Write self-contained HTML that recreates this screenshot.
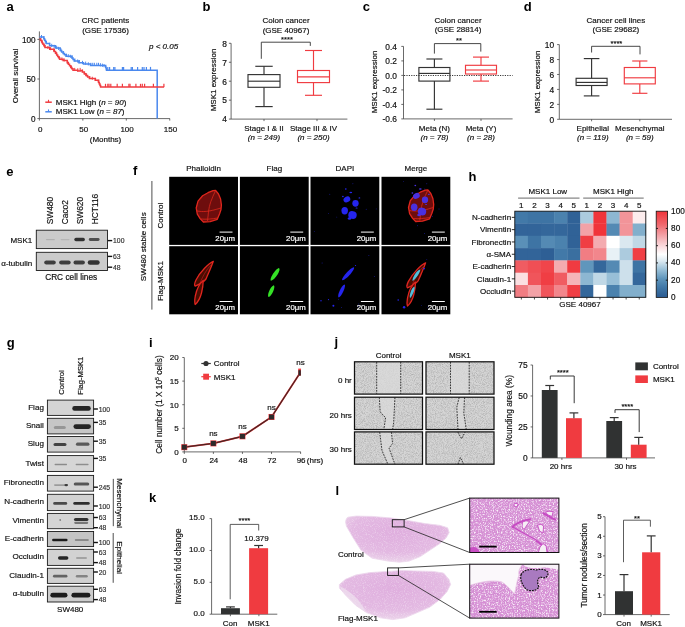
<!DOCTYPE html>
<html><head><meta charset="utf-8"><style>
html,body{margin:0;padding:0;background:#fff;}
svg{display:block;font-family:"Liberation Sans",sans-serif;filter:blur(0.3px);}
</style></head><body>
<svg width="685" height="627" viewBox="0 0 685 627">
<defs><filter id="bb" x="-50%" y="-100%" width="200%" height="300%"><feGaussianBlur stdDeviation="0.75"/></filter>
<filter id="bb2" x="-50%" y="-100%" width="200%" height="300%"><feGaussianBlur stdDeviation="1.1"/></filter>
<filter id="glow" x="-20%" y="-20%" width="140%" height="140%"><feGaussianBlur stdDeviation="0.35"/></filter>
<linearGradient id="cb" x1="0" y1="1" x2="0" y2="0"><stop offset="0.00" stop-color="#2a5a91"/><stop offset="0.12" stop-color="#4279a8"/><stop offset="0.22" stop-color="#6096bc"/><stop offset="0.32" stop-color="#98bfd7"/><stop offset="0.42" stop-color="#dae8f0"/><stop offset="0.50" stop-color="#ffffff"/><stop offset="0.60" stop-color="#fad8db"/><stop offset="0.72" stop-color="#f3a2a7"/><stop offset="0.85" stop-color="#f0666c"/><stop offset="1.00" stop-color="#f0343a"/></linearGradient>
<filter id="noise" x="0" y="0" width="100%" height="100%"><feTurbulence type="fractalNoise" baseFrequency="1.1" numOctaves="2" seed="4"/><feColorMatrix type="matrix" values="0 0 0 0 0  0 0 0 0 0  0 0 0 0 0  0 0 0 -2.2 1.35"/><feComposite in2="SourceGraphic" operator="in"/></filter>
<filter id="tis" x="0" y="0" width="100%" height="100%"><feTurbulence type="fractalNoise" baseFrequency="0.9" numOctaves="2" seed="9"/><feColorMatrix type="matrix" values="0 0 0 0 1  0 0 0 0 1  0 0 0 0 1  0 0 0 -3 1.55"/><feComposite in2="SourceGraphic" operator="in"/></filter>
<radialGradient id="tisg" cx="0.5" cy="0.35" r="0.65"><stop offset="0" stop-color="#dfaede"/><stop offset="0.7" stop-color="#e3b9e2"/><stop offset="1" stop-color="#ebd3ea"/></radialGradient>
<filter id="hist" x="0" y="0" width="100%" height="100%"><feTurbulence type="fractalNoise" baseFrequency="0.75" numOctaves="2" seed="2"/><feColorMatrix type="matrix" values="0 0 0 0 1  0 0 0 0 1  0 0 0 0 1  0 0 0 -3.2 1.75"/><feComposite in2="SourceGraphic" operator="in"/></filter>
<filter id="hist2" x="0" y="0" width="100%" height="100%"><feTurbulence type="fractalNoise" baseFrequency="1.3" numOctaves="1" seed="5"/><feColorMatrix type="matrix" values="0 0 0 0 0.5  0 0 0 0 0.2  0 0 0 0 0.5  0 0 0 4 -2.2"/><feComposite in2="SourceGraphic" operator="in"/></filter>
<clipPath id="ins1"><rect x="469.7" y="498.1" width="89.2" height="54.4"/></clipPath>
<clipPath id="ins2"><rect x="469.7" y="564.2" width="89.2" height="53.9"/></clipPath></defs>
<rect width="685" height="627" fill="#fff"/>
<text x="6.50" y="10.70" font-size="13" text-anchor="start" font-weight="bold" fill="#000">a</text>
<text x="105.50" y="23.00" font-size="8" text-anchor="middle" fill="#111" stroke="#111" stroke-width="0.18">CRC patients</text>
<text x="105.50" y="33.20" font-size="8" text-anchor="middle" fill="#111" stroke="#111" stroke-width="0.18">(GSE 17536)</text>
<text x="149.00" y="48.50" font-size="8" text-anchor="start" font-style="italic" fill="#111" stroke="#111" stroke-width="0.18"><tspan font-style="italic">p</tspan> &lt; 0.05</text>
<line x1="39.40" y1="31.40" x2="39.40" y2="118.60" stroke="#444" stroke-width="0.8"/>
<line x1="39.40" y1="118.60" x2="169.90" y2="118.60" stroke="#444" stroke-width="0.8"/>
<line x1="37.40" y1="118.60" x2="39.40" y2="118.60" stroke="#444" stroke-width="0.8"/>
<text x="35.60" y="121.80" font-size="8.2" text-anchor="end" fill="#111" stroke="#111" stroke-width="0.18">0</text>
<line x1="37.40" y1="79.00" x2="39.40" y2="79.00" stroke="#444" stroke-width="0.8"/>
<text x="35.60" y="82.20" font-size="8.2" text-anchor="end" fill="#111" stroke="#111" stroke-width="0.18">50</text>
<line x1="37.40" y1="39.40" x2="39.40" y2="39.40" stroke="#444" stroke-width="0.8"/>
<text x="35.60" y="42.60" font-size="8.2" text-anchor="end" fill="#111" stroke="#111" stroke-width="0.18">100</text>
<line x1="39.40" y1="118.60" x2="39.40" y2="120.60" stroke="#444" stroke-width="0.8"/>
<text x="40.20" y="131.60" font-size="8" text-anchor="middle" fill="#111" stroke="#111" stroke-width="0.18">0</text>
<line x1="82.85" y1="118.60" x2="82.85" y2="120.60" stroke="#444" stroke-width="0.8"/>
<text x="83.65" y="131.60" font-size="8" text-anchor="middle" fill="#111" stroke="#111" stroke-width="0.18">50</text>
<line x1="126.30" y1="118.60" x2="126.30" y2="120.60" stroke="#444" stroke-width="0.8"/>
<text x="127.10" y="131.60" font-size="8" text-anchor="middle" fill="#111" stroke="#111" stroke-width="0.18">100</text>
<line x1="169.75" y1="118.60" x2="169.75" y2="120.60" stroke="#444" stroke-width="0.8"/>
<text x="170.55" y="131.60" font-size="8" text-anchor="middle" fill="#111" stroke="#111" stroke-width="0.18">150</text>
<text x="105.50" y="141.80" font-size="8" text-anchor="middle" fill="#111" stroke="#111" stroke-width="0.18">(Months)</text>
<text x="17.60" y="76.00" font-size="8" text-anchor="middle" fill="#111" stroke="#111" stroke-width="0.18" transform="rotate(-90 17.6 76)">Overall survival</text>
<path d="M39.60,37.00 H43.80 V38.80 H44.60 V40.33 H45.40 V41.87 H46.20 V43.40 H49.70 V45.80 H55.50 V48.10 H60.20 V50.40 H61.65 V51.90 H63.10 V53.40 H64.55 V54.85 H66.00 V56.30 H71.90 V58.00 H73.05 V59.50 H74.20 V61.00 H78.90 V62.70 H83.50 V63.90 H90.50 V65.60 H98.70 V65.60 H105.70 V67.20 H106.10 V68.70 H106.50 V70.20 H157.20 V70.20 V118.60" stroke="#4a88ee" stroke-width="1.5" fill="none"/>
<path d="M39.60,38.80 H40.55 V40.15 H41.50 V41.50 H42.10 V42.75 H42.70 V44.00 H43.85 V45.75 H45.00 V47.50 H49.70 V49.30 H54.30 V51.60 H55.50 V53.35 H56.70 V55.10 H57.67 V56.47 H58.63 V57.83 H59.60 V59.20 H63.10 V60.40 H67.20 V62.70 H68.37 V64.27 H69.53 V65.83 H70.70 V67.40 H71.85 V68.85 H73.00 V70.30 H77.70 V70.90 H80.50 V70.40 H82.40 V72.00 H84.15 V73.75 H85.90 V75.50 H87.65 V77.00 H89.40 V78.50 H95.20 V80.20 H98.70 V82.60 H99.33 V84.10 H99.97 V85.60 H100.60 V87.10 H164.10 V87.10" stroke="#f03b40" stroke-width="1.5" fill="none"/>
<line x1="107.80" y1="66.90" x2="107.80" y2="70.20" stroke="#4a88ee" stroke-width="1.2"/>
<line x1="109.60" y1="66.90" x2="109.60" y2="70.20" stroke="#4a88ee" stroke-width="1.2"/>
<line x1="113.70" y1="66.90" x2="113.70" y2="70.20" stroke="#4a88ee" stroke-width="1.2"/>
<line x1="114.90" y1="66.90" x2="114.90" y2="70.20" stroke="#4a88ee" stroke-width="1.2"/>
<line x1="122.40" y1="66.90" x2="122.40" y2="70.20" stroke="#4a88ee" stroke-width="1.2"/>
<line x1="123.60" y1="66.90" x2="123.60" y2="70.20" stroke="#4a88ee" stroke-width="1.2"/>
<line x1="131.20" y1="66.90" x2="131.20" y2="70.20" stroke="#4a88ee" stroke-width="1.2"/>
<line x1="132.40" y1="66.90" x2="132.40" y2="70.20" stroke="#4a88ee" stroke-width="1.2"/>
<line x1="137.60" y1="66.90" x2="137.60" y2="70.20" stroke="#4a88ee" stroke-width="1.2"/>
<line x1="142.30" y1="66.90" x2="142.30" y2="70.20" stroke="#4a88ee" stroke-width="1.2"/>
<line x1="144.00" y1="66.90" x2="144.00" y2="70.20" stroke="#4a88ee" stroke-width="1.2"/>
<line x1="146.40" y1="66.90" x2="146.40" y2="70.20" stroke="#4a88ee" stroke-width="1.2"/>
<line x1="150.50" y1="66.90" x2="150.50" y2="70.20" stroke="#4a88ee" stroke-width="1.2"/>
<line x1="105.50" y1="83.80" x2="105.50" y2="87.10" stroke="#f03b40" stroke-width="1.2"/>
<line x1="107.80" y1="83.80" x2="107.80" y2="87.10" stroke="#f03b40" stroke-width="1.2"/>
<line x1="109.00" y1="83.80" x2="109.00" y2="87.10" stroke="#f03b40" stroke-width="1.2"/>
<line x1="110.80" y1="83.80" x2="110.80" y2="87.10" stroke="#f03b40" stroke-width="1.2"/>
<line x1="117.20" y1="83.80" x2="117.20" y2="87.10" stroke="#f03b40" stroke-width="1.2"/>
<line x1="122.40" y1="83.80" x2="122.40" y2="87.10" stroke="#f03b40" stroke-width="1.2"/>
<line x1="128.90" y1="83.80" x2="128.90" y2="87.10" stroke="#f03b40" stroke-width="1.2"/>
<line x1="130.00" y1="83.80" x2="130.00" y2="87.10" stroke="#f03b40" stroke-width="1.2"/>
<line x1="135.90" y1="83.80" x2="135.90" y2="87.10" stroke="#f03b40" stroke-width="1.2"/>
<line x1="140.50" y1="83.80" x2="140.50" y2="87.10" stroke="#f03b40" stroke-width="1.2"/>
<line x1="142.30" y1="83.80" x2="142.30" y2="87.10" stroke="#f03b40" stroke-width="1.2"/>
<line x1="144.60" y1="83.80" x2="144.60" y2="87.10" stroke="#f03b40" stroke-width="1.2"/>
<line x1="153.40" y1="83.80" x2="153.40" y2="87.10" stroke="#f03b40" stroke-width="1.2"/>
<line x1="163.90" y1="83.80" x2="163.90" y2="87.10" stroke="#f03b40" stroke-width="1.2"/>
<line x1="41.50" y1="35.01" x2="41.50" y2="38.21" stroke="#4a88ee" stroke-width="1.0"/>
<line x1="43.82" y1="36.05" x2="43.82" y2="39.25" stroke="#4a88ee" stroke-width="1.0"/>
<line x1="46.32" y1="40.68" x2="46.32" y2="43.88" stroke="#4a88ee" stroke-width="1.0"/>
<line x1="49.40" y1="42.79" x2="49.40" y2="45.99" stroke="#4a88ee" stroke-width="1.0"/>
<line x1="51.74" y1="43.81" x2="51.74" y2="47.01" stroke="#4a88ee" stroke-width="1.0"/>
<line x1="54.16" y1="44.77" x2="54.16" y2="47.97" stroke="#4a88ee" stroke-width="1.0"/>
<line x1="56.70" y1="45.89" x2="56.70" y2="49.09" stroke="#4a88ee" stroke-width="1.0"/>
<line x1="58.59" y1="46.81" x2="58.59" y2="50.01" stroke="#4a88ee" stroke-width="1.0"/>
<line x1="61.01" y1="48.44" x2="61.01" y2="51.64" stroke="#4a88ee" stroke-width="1.0"/>
<line x1="63.62" y1="51.12" x2="63.62" y2="54.32" stroke="#4a88ee" stroke-width="1.0"/>
<line x1="66.49" y1="53.64" x2="66.49" y2="56.84" stroke="#4a88ee" stroke-width="1.0"/>
<line x1="68.24" y1="54.14" x2="68.24" y2="57.34" stroke="#4a88ee" stroke-width="1.0"/>
<line x1="70.32" y1="54.75" x2="70.32" y2="57.95" stroke="#4a88ee" stroke-width="1.0"/>
<line x1="72.07" y1="55.42" x2="72.07" y2="58.62" stroke="#4a88ee" stroke-width="1.0"/>
<line x1="74.96" y1="58.48" x2="74.96" y2="61.68" stroke="#4a88ee" stroke-width="1.0"/>
<line x1="77.67" y1="59.46" x2="77.67" y2="62.66" stroke="#4a88ee" stroke-width="1.0"/>
<line x1="79.34" y1="60.01" x2="79.34" y2="63.21" stroke="#4a88ee" stroke-width="1.0"/>
<line x1="82.51" y1="60.84" x2="82.51" y2="64.04" stroke="#4a88ee" stroke-width="1.0"/>
<line x1="85.65" y1="61.62" x2="85.65" y2="64.82" stroke="#4a88ee" stroke-width="1.0"/>
<line x1="88.30" y1="62.27" x2="88.30" y2="65.47" stroke="#4a88ee" stroke-width="1.0"/>
<line x1="90.89" y1="62.80" x2="90.89" y2="66.00" stroke="#4a88ee" stroke-width="1.0"/>
<line x1="92.74" y1="62.80" x2="92.74" y2="66.00" stroke="#4a88ee" stroke-width="1.0"/>
<line x1="94.36" y1="62.80" x2="94.36" y2="66.00" stroke="#4a88ee" stroke-width="1.0"/>
<line x1="96.81" y1="62.80" x2="96.81" y2="66.00" stroke="#4a88ee" stroke-width="1.0"/>
<line x1="98.50" y1="62.80" x2="98.50" y2="66.00" stroke="#4a88ee" stroke-width="1.0"/>
<line x1="100.41" y1="63.19" x2="100.41" y2="66.39" stroke="#4a88ee" stroke-width="1.0"/>
<line x1="102.39" y1="63.64" x2="102.39" y2="66.84" stroke="#4a88ee" stroke-width="1.0"/>
<line x1="104.04" y1="64.02" x2="104.04" y2="67.22" stroke="#4a88ee" stroke-width="1.0"/>
<line x1="42.00" y1="39.94" x2="42.00" y2="42.94" stroke="#f03b40" stroke-width="1.0"/>
<line x1="44.59" y1="44.28" x2="44.59" y2="47.28" stroke="#f03b40" stroke-width="1.0"/>
<line x1="47.91" y1="46.01" x2="47.91" y2="49.01" stroke="#f03b40" stroke-width="1.0"/>
<line x1="50.64" y1="47.17" x2="50.64" y2="50.17" stroke="#f03b40" stroke-width="1.0"/>
<line x1="53.60" y1="48.65" x2="53.60" y2="51.65" stroke="#f03b40" stroke-width="1.0"/>
<line x1="56.30" y1="51.91" x2="56.30" y2="54.91" stroke="#f03b40" stroke-width="1.0"/>
<line x1="59.29" y1="56.16" x2="59.29" y2="59.16" stroke="#f03b40" stroke-width="1.0"/>
<line x1="61.91" y1="57.39" x2="61.91" y2="60.39" stroke="#f03b40" stroke-width="1.0"/>
<line x1="64.21" y1="58.42" x2="64.21" y2="61.42" stroke="#f03b40" stroke-width="1.0"/>
<line x1="67.81" y1="60.92" x2="67.81" y2="63.92" stroke="#f03b40" stroke-width="1.0"/>
<line x1="71.40" y1="65.68" x2="71.40" y2="68.68" stroke="#f03b40" stroke-width="1.0"/>
<line x1="74.71" y1="67.92" x2="74.71" y2="70.92" stroke="#f03b40" stroke-width="1.0"/>
<line x1="77.79" y1="68.28" x2="77.79" y2="71.28" stroke="#f03b40" stroke-width="1.0"/>
<line x1="80.15" y1="67.86" x2="80.15" y2="70.86" stroke="#f03b40" stroke-width="1.0"/>
<line x1="82.37" y1="69.37" x2="82.37" y2="72.37" stroke="#f03b40" stroke-width="1.0"/>
<line x1="84.69" y1="71.69" x2="84.69" y2="74.69" stroke="#f03b40" stroke-width="1.0"/>
<line x1="86.61" y1="73.51" x2="86.61" y2="76.51" stroke="#f03b40" stroke-width="1.0"/>
<line x1="89.79" y1="76.02" x2="89.79" y2="79.02" stroke="#f03b40" stroke-width="1.0"/>
<line x1="92.31" y1="76.75" x2="92.31" y2="79.75" stroke="#f03b40" stroke-width="1.0"/>
<line x1="95.64" y1="77.90" x2="95.64" y2="80.90" stroke="#f03b40" stroke-width="1.0"/>
<line x1="98.13" y1="79.61" x2="98.13" y2="82.61" stroke="#f03b40" stroke-width="1.0"/>
<line x1="45.30" y1="102.20" x2="51.80" y2="102.20" stroke="#f03b40" stroke-width="1.5"/>
<line x1="48.50" y1="99.80" x2="48.50" y2="102.20" stroke="#f03b40" stroke-width="1.1"/>
<line x1="45.30" y1="111.80" x2="51.80" y2="111.80" stroke="#4a88ee" stroke-width="1.5"/>
<line x1="48.50" y1="109.40" x2="48.50" y2="111.80" stroke="#4a88ee" stroke-width="1.1"/>
<text x="55.80" y="104.80" font-size="8" text-anchor="start" fill="#111" stroke="#111" stroke-width="0.18">MSK1 High (<tspan font-style="italic">n</tspan> = <tspan font-style="italic">90</tspan>)</text>
<text x="55.80" y="114.40" font-size="8" text-anchor="start" fill="#111" stroke="#111" stroke-width="0.18">MSK1 Low (<tspan font-style="italic">n</tspan> = <tspan font-style="italic">87</tspan>)</text>
<text x="202.60" y="10.60" font-size="13" text-anchor="start" font-weight="bold" fill="#000">b</text>
<text x="286.00" y="23.10" font-size="8" text-anchor="middle" fill="#111" stroke="#111" stroke-width="0.18">Colon cancer</text>
<text x="286.00" y="33.00" font-size="8" text-anchor="middle" fill="#111" stroke="#111" stroke-width="0.18">(GSE 40967)</text>
<line x1="231.10" y1="43.30" x2="231.10" y2="119.10" stroke="#444" stroke-width="0.8"/>
<line x1="228.90" y1="119.10" x2="231.10" y2="119.10" stroke="#444" stroke-width="0.8"/>
<text x="226.90" y="122.40" font-size="8.4" text-anchor="end" fill="#111" stroke="#111" stroke-width="0.18">4</text>
<line x1="228.90" y1="100.15" x2="231.10" y2="100.15" stroke="#444" stroke-width="0.8"/>
<text x="226.90" y="103.45" font-size="8.4" text-anchor="end" fill="#111" stroke="#111" stroke-width="0.18">5</text>
<line x1="228.90" y1="81.20" x2="231.10" y2="81.20" stroke="#444" stroke-width="0.8"/>
<text x="226.90" y="84.50" font-size="8.4" text-anchor="end" fill="#111" stroke="#111" stroke-width="0.18">6</text>
<line x1="228.90" y1="62.25" x2="231.10" y2="62.25" stroke="#444" stroke-width="0.8"/>
<text x="226.90" y="65.55" font-size="8.4" text-anchor="end" fill="#111" stroke="#111" stroke-width="0.18">7</text>
<line x1="228.90" y1="43.30" x2="231.10" y2="43.30" stroke="#444" stroke-width="0.8"/>
<text x="226.90" y="46.60" font-size="8.4" text-anchor="end" fill="#111" stroke="#111" stroke-width="0.18">8</text>
<line x1="231.10" y1="119.10" x2="347.40" y2="119.10" stroke="#444" stroke-width="0.8"/>
<line x1="264.00" y1="119.10" x2="264.00" y2="121.10" stroke="#444" stroke-width="0.8"/>
<line x1="317.00" y1="119.10" x2="317.00" y2="121.10" stroke="#444" stroke-width="0.8"/>
<rect x="248.00" y="74.60" width="32.00" height="12.70" fill="none" stroke="#333" stroke-width="1.15"/>
<line x1="248.00" y1="81.20" x2="280.00" y2="81.20" stroke="#333" stroke-width="1.15"/>
<line x1="264.00" y1="74.60" x2="264.00" y2="66.30" stroke="#333" stroke-width="1.15"/>
<line x1="264.00" y1="87.30" x2="264.00" y2="106.60" stroke="#333" stroke-width="1.15"/>
<line x1="255.30" y1="66.30" x2="272.70" y2="66.30" stroke="#333" stroke-width="1.15"/>
<line x1="255.30" y1="106.60" x2="272.70" y2="106.60" stroke="#333" stroke-width="1.15"/>
<rect x="297.50" y="70.50" width="32.00" height="12.10" fill="none" stroke="#f03b40" stroke-width="1.15"/>
<line x1="297.50" y1="76.80" x2="329.50" y2="76.80" stroke="#f03b40" stroke-width="1.15"/>
<line x1="313.50" y1="70.50" x2="313.50" y2="50.50" stroke="#f03b40" stroke-width="1.15"/>
<line x1="313.50" y1="82.60" x2="313.50" y2="95.30" stroke="#f03b40" stroke-width="1.15"/>
<line x1="305.00" y1="50.50" x2="322.00" y2="50.50" stroke="#f03b40" stroke-width="1.15"/>
<line x1="305.00" y1="95.30" x2="322.00" y2="95.30" stroke="#f03b40" stroke-width="1.15"/>
<path d="M261.3,58.8 V42.2 H310.3 V45.9" stroke="#333" stroke-width="0.9" fill="none"/>
<text x="287.00" y="42.00" font-size="7.6" text-anchor="middle" fill="#111" stroke="#111" stroke-width="0.18">****</text>
<text x="264.00" y="131.00" font-size="8" text-anchor="middle" fill="#111" stroke="#111" stroke-width="0.18">Stage I &amp; II</text>
<text x="264.00" y="140.40" font-size="8" text-anchor="middle" font-style="italic" fill="#111" stroke="#111" stroke-width="0.18">(<tspan>n</tspan> = 249)</text>
<text x="313.50" y="131.00" font-size="8" text-anchor="middle" fill="#111" stroke="#111" stroke-width="0.18">Stage III &amp; IV</text>
<text x="313.50" y="140.40" font-size="8" text-anchor="middle" font-style="italic" fill="#111" stroke="#111" stroke-width="0.18">(n = 250)</text>
<text x="216.30" y="80.00" font-size="8" text-anchor="middle" fill="#111" stroke="#111" stroke-width="0.18" transform="rotate(-90 216.3 80)">MSK1 expression</text>
<text x="362.80" y="10.60" font-size="13" text-anchor="start" font-weight="bold" fill="#000">c</text>
<text x="458.00" y="22.80" font-size="8" text-anchor="middle" fill="#111" stroke="#111" stroke-width="0.18">Colon cancer</text>
<text x="458.00" y="32.30" font-size="8" text-anchor="middle" fill="#111" stroke="#111" stroke-width="0.18">(GSE 28814)</text>
<line x1="403.50" y1="46.40" x2="403.50" y2="118.90" stroke="#444" stroke-width="0.8"/>
<line x1="401.30" y1="46.40" x2="403.50" y2="46.40" stroke="#444" stroke-width="0.8"/>
<text x="397.00" y="49.70" font-size="8.4" text-anchor="end" fill="#111" stroke="#111" stroke-width="0.18">0.4</text>
<line x1="401.30" y1="60.90" x2="403.50" y2="60.90" stroke="#444" stroke-width="0.8"/>
<text x="397.00" y="64.20" font-size="8.4" text-anchor="end" fill="#111" stroke="#111" stroke-width="0.18">0.2</text>
<line x1="401.30" y1="75.40" x2="403.50" y2="75.40" stroke="#444" stroke-width="0.8"/>
<text x="397.00" y="78.70" font-size="8.4" text-anchor="end" fill="#111" stroke="#111" stroke-width="0.18">0.0</text>
<line x1="401.30" y1="89.90" x2="403.50" y2="89.90" stroke="#444" stroke-width="0.8"/>
<text x="397.00" y="93.20" font-size="8.4" text-anchor="end" fill="#111" stroke="#111" stroke-width="0.18">-0.2</text>
<line x1="401.30" y1="104.40" x2="403.50" y2="104.40" stroke="#444" stroke-width="0.8"/>
<text x="397.00" y="107.70" font-size="8.4" text-anchor="end" fill="#111" stroke="#111" stroke-width="0.18">-0.4</text>
<line x1="401.30" y1="118.90" x2="403.50" y2="118.90" stroke="#444" stroke-width="0.8"/>
<text x="397.00" y="122.20" font-size="8.4" text-anchor="end" fill="#111" stroke="#111" stroke-width="0.18">-0.6</text>
<line x1="403.50" y1="118.90" x2="512.60" y2="118.90" stroke="#444" stroke-width="0.8"/>
<line x1="404.00" y1="75.50" x2="512.60" y2="75.50" stroke="#222" stroke-width="0.9" stroke-dasharray="1.2,1.2"/>
<line x1="434.40" y1="118.90" x2="434.40" y2="120.90" stroke="#444" stroke-width="0.8"/>
<line x1="481.00" y1="118.90" x2="481.00" y2="120.90" stroke="#444" stroke-width="0.8"/>
<rect x="418.90" y="67.50" width="31.00" height="13.60" fill="none" stroke="#333" stroke-width="1.15"/>
<line x1="418.90" y1="73.40" x2="449.90" y2="73.40" stroke="#333" stroke-width="1.15"/>
<line x1="434.40" y1="67.50" x2="434.40" y2="59.00" stroke="#333" stroke-width="1.15"/>
<line x1="434.40" y1="81.10" x2="434.40" y2="109.20" stroke="#333" stroke-width="1.15"/>
<line x1="426.40" y1="59.00" x2="442.40" y2="59.00" stroke="#333" stroke-width="1.15"/>
<line x1="426.40" y1="109.20" x2="442.40" y2="109.20" stroke="#333" stroke-width="1.15"/>
<rect x="465.50" y="65.30" width="31.00" height="8.70" fill="none" stroke="#f03b40" stroke-width="1.15"/>
<line x1="465.50" y1="70.00" x2="496.50" y2="70.00" stroke="#f03b40" stroke-width="1.15"/>
<line x1="481.00" y1="65.30" x2="481.00" y2="57.10" stroke="#f03b40" stroke-width="1.15"/>
<line x1="481.00" y1="74.00" x2="481.00" y2="81.10" stroke="#f03b40" stroke-width="1.15"/>
<line x1="473.00" y1="57.10" x2="489.00" y2="57.10" stroke="#f03b40" stroke-width="1.15"/>
<line x1="473.00" y1="81.10" x2="489.00" y2="81.10" stroke="#f03b40" stroke-width="1.15"/>
<path d="M434.4,53.6 V43.6 H480.8 V51.6" stroke="#333" stroke-width="0.9" fill="none"/>
<text x="459.00" y="43.00" font-size="7.6" text-anchor="middle" fill="#111" stroke="#111" stroke-width="0.18">**</text>
<text x="434.40" y="131.00" font-size="8" text-anchor="middle" fill="#111" stroke="#111" stroke-width="0.18">Meta (N)</text>
<text x="434.40" y="139.60" font-size="8" text-anchor="middle" font-style="italic" fill="#111" stroke="#111" stroke-width="0.18">(n = 78)</text>
<text x="481.00" y="131.00" font-size="8" text-anchor="middle" fill="#111" stroke="#111" stroke-width="0.18">Meta (Y)</text>
<text x="481.00" y="139.60" font-size="8" text-anchor="middle" font-style="italic" fill="#111" stroke="#111" stroke-width="0.18">(n = 28)</text>
<text x="377.30" y="82.00" font-size="8" text-anchor="middle" fill="#111" stroke="#111" stroke-width="0.18" transform="rotate(-90 377.3 82)">MSK1 expression</text>
<text x="523.80" y="10.60" font-size="13" text-anchor="start" font-weight="bold" fill="#000">d</text>
<text x="615.90" y="22.90" font-size="8" text-anchor="middle" fill="#111" stroke="#111" stroke-width="0.18">Cancer cell lines</text>
<text x="615.90" y="31.70" font-size="8" text-anchor="middle" fill="#111" stroke="#111" stroke-width="0.18">(GSE 29682)</text>
<line x1="559.30" y1="44.60" x2="559.30" y2="119.30" stroke="#444" stroke-width="0.8"/>
<line x1="557.10" y1="119.30" x2="559.30" y2="119.30" stroke="#444" stroke-width="0.8"/>
<text x="554.10" y="122.60" font-size="8.4" text-anchor="end" fill="#111" stroke="#111" stroke-width="0.18">0</text>
<line x1="557.10" y1="104.36" x2="559.30" y2="104.36" stroke="#444" stroke-width="0.8"/>
<text x="554.10" y="107.66" font-size="8.4" text-anchor="end" fill="#111" stroke="#111" stroke-width="0.18">2</text>
<line x1="557.10" y1="89.42" x2="559.30" y2="89.42" stroke="#444" stroke-width="0.8"/>
<text x="554.10" y="92.72" font-size="8.4" text-anchor="end" fill="#111" stroke="#111" stroke-width="0.18">4</text>
<line x1="557.10" y1="74.48" x2="559.30" y2="74.48" stroke="#444" stroke-width="0.8"/>
<text x="554.10" y="77.78" font-size="8.4" text-anchor="end" fill="#111" stroke="#111" stroke-width="0.18">6</text>
<line x1="557.10" y1="59.54" x2="559.30" y2="59.54" stroke="#444" stroke-width="0.8"/>
<text x="554.10" y="62.84" font-size="8.4" text-anchor="end" fill="#111" stroke="#111" stroke-width="0.18">8</text>
<line x1="557.10" y1="44.60" x2="559.30" y2="44.60" stroke="#444" stroke-width="0.8"/>
<text x="554.10" y="47.90" font-size="8.4" text-anchor="end" fill="#111" stroke="#111" stroke-width="0.18">10</text>
<line x1="559.30" y1="119.30" x2="672.00" y2="119.30" stroke="#444" stroke-width="0.8"/>
<line x1="591.60" y1="119.30" x2="591.60" y2="121.30" stroke="#444" stroke-width="0.8"/>
<line x1="639.80" y1="119.30" x2="639.80" y2="121.30" stroke="#444" stroke-width="0.8"/>
<rect x="576.10" y="78.30" width="31.00" height="7.20" fill="none" stroke="#333" stroke-width="1.15"/>
<line x1="576.10" y1="82.40" x2="607.10" y2="82.40" stroke="#333" stroke-width="1.15"/>
<line x1="591.60" y1="78.30" x2="591.60" y2="58.60" stroke="#333" stroke-width="1.15"/>
<line x1="591.60" y1="85.50" x2="591.60" y2="95.90" stroke="#333" stroke-width="1.15"/>
<line x1="583.80" y1="58.60" x2="599.40" y2="58.60" stroke="#333" stroke-width="1.15"/>
<line x1="583.80" y1="95.90" x2="599.40" y2="95.90" stroke="#333" stroke-width="1.15"/>
<rect x="624.30" y="67.50" width="31.00" height="16.40" fill="none" stroke="#f03b40" stroke-width="1.15"/>
<line x1="624.30" y1="77.80" x2="655.30" y2="77.80" stroke="#f03b40" stroke-width="1.15"/>
<line x1="639.80" y1="67.50" x2="639.80" y2="61.00" stroke="#f03b40" stroke-width="1.15"/>
<line x1="639.80" y1="83.90" x2="639.80" y2="93.30" stroke="#f03b40" stroke-width="1.15"/>
<line x1="632.20" y1="61.00" x2="647.40" y2="61.00" stroke="#f03b40" stroke-width="1.15"/>
<line x1="632.20" y1="93.30" x2="647.40" y2="93.30" stroke="#f03b40" stroke-width="1.15"/>
<path d="M591.6,52.5 V46.3 H640 V54.4" stroke="#333" stroke-width="0.9" fill="none"/>
<text x="616.40" y="45.60" font-size="7.6" text-anchor="middle" fill="#111" stroke="#111" stroke-width="0.18">****</text>
<text x="592.80" y="130.80" font-size="8" text-anchor="middle" fill="#111" stroke="#111" stroke-width="0.18">Epithelial</text>
<text x="592.80" y="140.20" font-size="8" text-anchor="middle" font-style="italic" fill="#111" stroke="#111" stroke-width="0.18">(n = 119)</text>
<text x="639.80" y="130.80" font-size="8" text-anchor="middle" fill="#111" stroke="#111" stroke-width="0.18">Mesenchymal</text>
<text x="639.80" y="140.20" font-size="8" text-anchor="middle" font-style="italic" fill="#111" stroke="#111" stroke-width="0.18">(n = 59)</text>
<text x="539.60" y="82.00" font-size="8" text-anchor="middle" fill="#111" stroke="#111" stroke-width="0.18" transform="rotate(-90 539.6 82)">MSK1 expression</text>
<text x="6.30" y="176.30" font-size="13" text-anchor="start" font-weight="bold" fill="#000">e</text>
<text x="53.40" y="224.30" font-size="8.4" text-anchor="start" fill="#111" stroke="#111" stroke-width="0.18" transform="rotate(-90 53.4 224.3)">SW480</text>
<text x="68.20" y="224.30" font-size="8.4" text-anchor="start" fill="#111" stroke="#111" stroke-width="0.18" transform="rotate(-90 68.2 224.3)">Caco2</text>
<text x="82.90" y="224.30" font-size="8.4" text-anchor="start" fill="#111" stroke="#111" stroke-width="0.18" transform="rotate(-90 82.9 224.3)">SW620</text>
<text x="97.60" y="224.30" font-size="8.4" text-anchor="start" fill="#111" stroke="#111" stroke-width="0.18" transform="rotate(-90 97.6 224.3)">HCT116</text>
<rect x="36.30" y="230.20" width="71.20" height="18.40" fill="#cbcbcb" stroke="#1a1a1a" stroke-width="0.9"/>
<rect x="74.30" y="237.80" width="10.60" height="3.40" rx="1.70" fill="#1e1e1e" opacity="0.88" filter="url(#bb)"/>
<rect x="88.80" y="238.10" width="10.80" height="2.80" rx="1.40" fill="#1e1e1e" opacity="0.7" filter="url(#bb)"/>
<rect x="45.90" y="238.90" width="9.00" height="1.40" rx="0.70" fill="#1e1e1e" opacity="0.15" filter="url(#bb)"/>
<rect x="60.60" y="238.90" width="9.00" height="1.40" rx="0.70" fill="#1e1e1e" opacity="0.12" filter="url(#bb)"/>
<rect x="36.30" y="252.30" width="71.20" height="18.20" fill="#cbcbcb" stroke="#1a1a1a" stroke-width="0.9"/>
<rect x="44.20" y="260.40" width="11.60" height="4.20" rx="2.10" fill="#1e1e1e" opacity="0.8" filter="url(#bb)"/>
<rect x="59.10" y="260.40" width="11.60" height="4.20" rx="2.10" fill="#1e1e1e" opacity="0.8" filter="url(#bb)"/>
<rect x="73.50" y="260.50" width="11.40" height="4.00" rx="2.00" fill="#1e1e1e" opacity="0.8" filter="url(#bb)"/>
<rect x="87.70" y="260.25" width="12.00" height="4.50" rx="2.25" fill="#1e1e1e" opacity="0.86" filter="url(#bb)"/>
<text x="32.20" y="242.60" font-size="8" text-anchor="end" fill="#111" stroke="#111" stroke-width="0.18">MSK1</text>
<text x="32.20" y="265.80" font-size="8" text-anchor="end" fill="#111" stroke="#111" stroke-width="0.18">α-tubulin</text>
<line x1="107.90" y1="240.60" x2="112.20" y2="240.60" stroke="#111" stroke-width="1.4"/>
<text x="113.10" y="243.10" font-size="6.8" text-anchor="start" fill="#333" stroke="#333" stroke-width="0.18">100</text>
<line x1="107.90" y1="256.40" x2="112.20" y2="256.40" stroke="#111" stroke-width="1.4"/>
<text x="113.10" y="258.90" font-size="6.8" text-anchor="start" fill="#333" stroke="#333" stroke-width="0.18">63</text>
<line x1="107.90" y1="267.20" x2="112.20" y2="267.20" stroke="#111" stroke-width="1.4"/>
<text x="113.10" y="269.70" font-size="6.8" text-anchor="start" fill="#333" stroke="#333" stroke-width="0.18">48</text>
<text x="71.20" y="280.00" font-size="8.3" text-anchor="middle" fill="#111" stroke="#111" stroke-width="0.18">CRC cell lines</text>
<text x="133.00" y="175.40" font-size="13" text-anchor="start" font-weight="bold" fill="#000">f</text>
<text x="203.60" y="171.40" font-size="8" text-anchor="middle" fill="#111" stroke="#111" stroke-width="0.18">Phalloidin</text>
<text x="274.30" y="171.40" font-size="8" text-anchor="middle" fill="#111" stroke="#111" stroke-width="0.18">Flag</text>
<text x="344.90" y="171.40" font-size="8" text-anchor="middle" fill="#111" stroke="#111" stroke-width="0.18">DAPI</text>
<text x="415.90" y="171.40" font-size="8" text-anchor="middle" fill="#111" stroke="#111" stroke-width="0.18">Merge</text>
<rect x="169.20" y="176.80" width="68.80" height="68.10" fill="#000" stroke="none" stroke-width="1"/>
<rect x="239.90" y="176.80" width="68.80" height="68.10" fill="#000" stroke="none" stroke-width="1"/>
<rect x="310.50" y="176.80" width="68.80" height="68.10" fill="#000" stroke="none" stroke-width="1"/>
<rect x="381.50" y="176.80" width="68.80" height="68.10" fill="#000" stroke="none" stroke-width="1"/>
<rect x="169.20" y="246.20" width="68.80" height="68.10" fill="#000" stroke="none" stroke-width="1"/>
<rect x="239.90" y="246.20" width="68.80" height="68.10" fill="#000" stroke="none" stroke-width="1"/>
<rect x="310.50" y="246.20" width="68.80" height="68.10" fill="#000" stroke="none" stroke-width="1"/>
<rect x="381.50" y="246.20" width="68.80" height="68.10" fill="#000" stroke="none" stroke-width="1"/>
<line x1="151.90" y1="181.00" x2="151.90" y2="309.60" stroke="#222" stroke-width="0.8"/>
<text x="146.20" y="246.70" font-size="8.1" text-anchor="middle" fill="#111" stroke="#111" stroke-width="0.18" transform="rotate(-90 146.2 246.7)">SW480 stable cells</text>
<text x="162.80" y="215.60" font-size="8" text-anchor="middle" fill="#111" stroke="#111" stroke-width="0.18" transform="rotate(-90 162.8 215.6)">Control</text>
<text x="162.80" y="281.10" font-size="8" text-anchor="middle" fill="#111" stroke="#111" stroke-width="0.18" transform="rotate(-90 162.8 281.1)">Flag-MSK1</text>
<g filter="url(#glow)">
<path d="M215.6,190.4 L218.5,194.0 L220.6,199.0 L221.4,205.0 L221.0,209.5 L219.5,214.0 L217.3,219.3 L210.2,221.6 L203.4,222.0 L200.3,218.9 L197.3,214.2 L196.2,208.0 L198.0,201.1 L202.6,195.8 L208.0,192.7 L213.0,190.6 Z" stroke="none" stroke-width="0" fill="#6e100b"/>
<path d="M215.6,190.6 C212,198 209,205 208.5,212 L207.5,221 M197,211 C203,212 208,212 221,208 M201,219 C206,219.5 212,219 217.8,218" stroke="#e0261e" stroke-width="0.9" fill="none" opacity="0.85"/>
<path d="M215.6,190.4 L218.5,194.0 L220.6,199.0 L221.4,205.0 L221.0,209.5 L219.5,214.0 L217.3,219.3 L210.2,221.6 L203.4,222.0 L200.3,218.9 L197.3,214.2 L196.2,208.0 L198.0,201.1 L202.6,195.8 L208.0,192.7 L213.0,190.6 Z" stroke="#e0261e" stroke-width="1.3" fill="none" stroke-linejoin="round"/>
</g>
<g filter="url(#glow)">
<path d="M213.3,261.3 C209,263 200,272 196,280 C194,284 194.5,286 195.2,286.2 C199,284.5 204,281.5 206,279 C208,274 211,268 213.3,261.3 Z" stroke="#e0261e" stroke-width="1.3" fill="#4a0805" stroke-linejoin="round"/>
<path d="M203.2,280.5 C199,284 196.5,290 195.3,296 C194.6,300 194.6,303 195.2,304.5 C198,302 200.2,298 201.5,293 C202.5,289 203.2,284 203.2,280.5 Z" stroke="#e0261e" stroke-width="1.3" fill="#4a0805" stroke-linejoin="round"/>
<path d="M211,265 C206,270 203,276 200,283" stroke="#e0261e" stroke-width="0.7" fill="none" opacity="0.7"/>
</g>
<g filter="url(#glow)">
<path d="M279,268 C281.5,269.5 275,280 271,280.8 C268.8,279.5 275.5,268.5 279,268 Z" fill="#35e226"/>
<path d="M273.8,285.2 C276,286.5 271.5,296.5 268.6,297 C266.5,296 270.5,285.8 273.8,285.2 Z" fill="#35e226"/>
</g>
<ellipse cx="346.9" cy="199.4" rx="3.52" ry="2.82" fill="#2525ee" transform="rotate(-30 346.9 199.4)"/>
<ellipse cx="355.5" cy="203.3" rx="3.17" ry="3.34" fill="#2525ee" transform="rotate(0 355.5 203.3)"/>
<ellipse cx="344.7" cy="210.8" rx="3.26" ry="3.70" fill="#2525ee" transform="rotate(0 344.7 210.8)"/>
<ellipse cx="352.5" cy="215.0" rx="4.22" ry="3.87" fill="#2525ee" transform="rotate(10 352.5 215.0)"/>
<ellipse cx="350.8" cy="192.5" rx="1.41" ry="0.70" fill="#2525ee" transform="rotate(0 350.8 192.5)"/>
<ellipse cx="345.8" cy="189.0" rx="0.88" ry="0.70" fill="#2525ee" transform="rotate(0 345.8 189.0)"/>
<ellipse cx="359.4" cy="197.9" rx="0.88" ry="0.70" fill="#2525ee" transform="rotate(0 359.4 197.9)"/>
<ellipse cx="356.6" cy="208.0" rx="1.06" ry="0.62" fill="#2525ee" transform="rotate(0 356.6 208.0)"/>
<ellipse cx="342.9" cy="196.5" rx="0.88" ry="0.70" fill="#2525ee" transform="rotate(0 342.9 196.5)"/>
<ellipse cx="349.5" cy="218.5" rx="1.76" ry="1.32" fill="#2525ee" transform="rotate(0 349.5 218.5)"/>
<circle cx="328.5" cy="213.4" r="0.45" fill="#2a2cff" opacity="0.8"/>
<circle cx="336.8" cy="217.1" r="0.45" fill="#2a2cff" opacity="0.8"/>
<circle cx="352.9" cy="183.8" r="0.45" fill="#2a2cff" opacity="0.8"/>
<circle cx="314.3" cy="231.6" r="0.45" fill="#2a2cff" opacity="0.8"/>
<circle cx="329.8" cy="194.2" r="0.45" fill="#2a2cff" opacity="0.8"/>
<circle cx="376.2" cy="208.9" r="0.45" fill="#2a2cff" opacity="0.8"/>
<circle cx="366.2" cy="209.2" r="0.45" fill="#2a2cff" opacity="0.8"/>
<circle cx="424.8" cy="189.0" r="0.45" fill="#2a2cff" opacity="0.8"/>
<circle cx="424.5" cy="233.5" r="0.45" fill="#2a2cff" opacity="0.8"/>
<circle cx="417.5" cy="225.7" r="0.45" fill="#2a2cff" opacity="0.8"/>
<circle cx="426.8" cy="183.7" r="0.45" fill="#2a2cff" opacity="0.8"/>
<circle cx="432.3" cy="216.3" r="0.45" fill="#2a2cff" opacity="0.8"/>
<circle cx="403.5" cy="181.6" r="0.45" fill="#2a2cff" opacity="0.8"/>
<circle cx="439.0" cy="209.0" r="0.45" fill="#2a2cff" opacity="0.8"/>
<circle cx="358.8" cy="304.0" r="0.45" fill="#2a2cff" opacity="0.8"/>
<circle cx="358.5" cy="306.6" r="0.45" fill="#2a2cff" opacity="0.8"/>
<circle cx="338.4" cy="299.2" r="0.45" fill="#2a2cff" opacity="0.8"/>
<circle cx="341.5" cy="307.5" r="0.45" fill="#2a2cff" opacity="0.8"/>
<circle cx="368.9" cy="255.5" r="0.45" fill="#2a2cff" opacity="0.8"/>
<circle cx="322.1" cy="263.0" r="0.45" fill="#2a2cff" opacity="0.8"/>
<circle cx="374.3" cy="276.5" r="0.45" fill="#2a2cff" opacity="0.8"/>
<circle cx="424.0" cy="268.2" r="0.45" fill="#2a2cff" opacity="0.8"/>
<circle cx="416.5" cy="273.4" r="0.45" fill="#2a2cff" opacity="0.8"/>
<circle cx="406.6" cy="285.8" r="0.45" fill="#2a2cff" opacity="0.8"/>
<circle cx="421.3" cy="305.6" r="0.45" fill="#2a2cff" opacity="0.8"/>
<circle cx="427.5" cy="307.1" r="0.45" fill="#2a2cff" opacity="0.8"/>
<circle cx="438.5" cy="310.9" r="0.45" fill="#2a2cff" opacity="0.8"/>
<circle cx="426.8" cy="259.6" r="0.45" fill="#2a2cff" opacity="0.8"/>
<path d="M353.8,267.3 C356,268.5 346,280.5 342.3,280.2 C340.5,278.8 350,268 353.8,267.3 Z" fill="#2525ee"/>
<path d="M344.6,284.6 C346.5,285.5 341.5,297.3 338.6,297.4 C336.8,296.5 341,285.5 344.6,284.6 Z" fill="#2525ee"/>
<circle cx="333.4" cy="305.8" r="1" fill="#2525ee"/>
<circle cx="321" cy="300.8" r="0.7" fill="#2525ee"/>
<circle cx="328.5" cy="299.6" r="0.6" fill="#2525ee"/>
<circle cx="355.5" cy="265.5" r="0.6" fill="#2525ee"/>
<g filter="url(#glow)">
<path d="M427.9,189.9 L430.8,193.5 L432.9,198.5 L433.7,204.5 L433.3,209.0 L431.8,213.5 L429.6,218.8 L422.5,221.1 L415.7,221.5 L412.6,218.4 L409.6,213.7 L408.5,207.5 L410.3,200.6 L414.9,195.3 L420.3,192.2 L425.3,190.1 Z" stroke="none" stroke-width="0" fill="#6e100b"/>
<path d="M427.9,190.1 C424.3,197.5 421.3,204.5 420.8,211.5 L419.8,220.5 M409.3,210.5 C415.3,211.5 420.3,211.5 433.3,207.5 M413.3,218.5 C418.3,219.0 424.3,218.5 430.1,217.5" stroke="#e0261e" stroke-width="0.9" fill="none" opacity="0.85"/>
<path d="M427.9,189.9 L430.8,193.5 L432.9,198.5 L433.7,204.5 L433.3,209.0 L431.8,213.5 L429.6,218.8 L422.5,221.1 L415.7,221.5 L412.6,218.4 L409.6,213.7 L408.5,207.5 L410.3,200.6 L414.9,195.3 L420.3,192.2 L425.3,190.1 Z" stroke="#e0261e" stroke-width="1.3" fill="none" stroke-linejoin="round"/>
</g>
<ellipse cx="416.4" cy="195.9" rx="3.52" ry="2.82" fill="#4a30e0" transform="rotate(-30 416.4 195.9)"/>
<ellipse cx="425.0" cy="199.8" rx="3.17" ry="3.34" fill="#4a30e0" transform="rotate(0 425.0 199.8)"/>
<ellipse cx="414.2" cy="207.3" rx="3.26" ry="3.70" fill="#4a30e0" transform="rotate(0 414.2 207.3)"/>
<ellipse cx="422.0" cy="211.5" rx="4.22" ry="3.87" fill="#4a30e0" transform="rotate(10 422.0 211.5)"/>
<ellipse cx="420.3" cy="189.0" rx="1.41" ry="0.70" fill="#4a30e0" transform="rotate(0 420.3 189.0)"/>
<ellipse cx="415.3" cy="185.5" rx="0.88" ry="0.70" fill="#4a30e0" transform="rotate(0 415.3 185.5)"/>
<ellipse cx="428.9" cy="194.4" rx="0.88" ry="0.70" fill="#4a30e0" transform="rotate(0 428.9 194.4)"/>
<ellipse cx="426.1" cy="204.5" rx="1.06" ry="0.62" fill="#4a30e0" transform="rotate(0 426.1 204.5)"/>
<ellipse cx="412.4" cy="193.0" rx="0.88" ry="0.70" fill="#4a30e0" transform="rotate(0 412.4 193.0)"/>
<ellipse cx="419.0" cy="215.0" rx="1.76" ry="1.32" fill="#4a30e0" transform="rotate(0 419.0 215.0)"/>
<g filter="url(#glow)">
<path d="M425.6,262.90000000000003 C421.3,264.6 412.3,273.6 408.3,281.6 C406.3,285.6 406.8,287.6 407.5,287.8 C411.3,286.1 416.3,283.1 418.3,280.6 C420.3,275.6 423.3,269.6 425.6,262.90000000000003 Z" stroke="#e0261e" stroke-width="1.3" fill="#4a0805" stroke-linejoin="round"/>
<path d="M415.5,282.1 C411.3,285.6 408.8,291.6 407.6,297.6 C406.9,301.6 406.9,304.6 407.5,306.1 C410.3,303.6 412.5,299.6 413.8,294.6 C414.8,290.6 415.5,285.6 415.5,282.1 Z" stroke="#e0261e" stroke-width="1.3" fill="#4a0805" stroke-linejoin="round"/>
<path d="M423.3,266.6 C418.3,271.6 415.3,277.6 412.3,284.6" stroke="#e0261e" stroke-width="0.7" fill="none" opacity="0.7"/>
</g>
<g filter="url(#glow)">
<path d="M419.8,269.5 C421.5,270.5 416,279 412.7,281 C411.5,280 415.5,271 419.8,269.5 Z" fill="#4fc0dc"/>
<path d="M414.3,286.5 C415.8,287.5 412.5,296 410.2,298 C408.8,297 411,288 414.3,286.5 Z" fill="#4fc0dc"/>
</g>
<circle cx="424.1" cy="268.6" r="0.9" fill="#2525ee"/>
<circle cx="398.2" cy="300" r="0.8" fill="#2525ee"/>
<circle cx="404.1" cy="307.3" r="1.2" fill="#2525ee"/>
<line x1="219.60" y1="232.10" x2="232.50" y2="232.10" stroke="#fff" stroke-width="1.0"/>
<text x="225.20" y="241.00" font-size="7.8" text-anchor="middle" fill="#fff" stroke="#fff" stroke-width="0.18">20μm</text>
<line x1="290.30" y1="232.10" x2="303.20" y2="232.10" stroke="#fff" stroke-width="1.0"/>
<text x="295.90" y="241.00" font-size="7.8" text-anchor="middle" fill="#fff" stroke="#fff" stroke-width="0.18">20μm</text>
<line x1="360.90" y1="232.10" x2="373.80" y2="232.10" stroke="#fff" stroke-width="1.0"/>
<text x="366.50" y="241.00" font-size="7.8" text-anchor="middle" fill="#fff" stroke="#fff" stroke-width="0.18">20μm</text>
<line x1="431.90" y1="232.10" x2="444.80" y2="232.10" stroke="#fff" stroke-width="1.0"/>
<text x="437.50" y="241.00" font-size="7.8" text-anchor="middle" fill="#fff" stroke="#fff" stroke-width="0.18">20μm</text>
<line x1="219.60" y1="301.50" x2="232.50" y2="301.50" stroke="#fff" stroke-width="1.0"/>
<text x="225.20" y="310.40" font-size="7.8" text-anchor="middle" fill="#fff" stroke="#fff" stroke-width="0.18">20μm</text>
<line x1="290.30" y1="301.50" x2="303.20" y2="301.50" stroke="#fff" stroke-width="1.0"/>
<text x="295.90" y="310.40" font-size="7.8" text-anchor="middle" fill="#fff" stroke="#fff" stroke-width="0.18">20μm</text>
<line x1="360.90" y1="301.50" x2="373.80" y2="301.50" stroke="#fff" stroke-width="1.0"/>
<text x="366.50" y="310.40" font-size="7.8" text-anchor="middle" fill="#fff" stroke="#fff" stroke-width="0.18">20μm</text>
<line x1="431.90" y1="301.50" x2="444.80" y2="301.50" stroke="#fff" stroke-width="1.0"/>
<text x="437.50" y="310.40" font-size="7.8" text-anchor="middle" fill="#fff" stroke="#fff" stroke-width="0.18">20μm</text>
<text x="468.50" y="180.60" font-size="13" text-anchor="start" font-weight="bold" fill="#000">h</text>
<rect x="514.80" y="211.20" width="13.40" height="12.60" fill="#4279a8" stroke="none" stroke-width="1"/>
<rect x="527.90" y="211.20" width="13.40" height="12.60" fill="#3e74a4" stroke="none" stroke-width="1"/>
<rect x="541.00" y="211.20" width="13.40" height="12.60" fill="#3e74a4" stroke="none" stroke-width="1"/>
<rect x="554.10" y="211.20" width="13.40" height="12.60" fill="#4b82ae" stroke="none" stroke-width="1"/>
<rect x="567.20" y="211.20" width="13.40" height="12.60" fill="#306297" stroke="none" stroke-width="1"/>
<rect x="580.30" y="211.20" width="13.40" height="12.60" fill="#accbde" stroke="none" stroke-width="1"/>
<rect x="593.40" y="211.20" width="13.40" height="12.60" fill="#f0343a" stroke="none" stroke-width="1"/>
<rect x="606.50" y="211.20" width="13.40" height="12.60" fill="#8db7d2" stroke="none" stroke-width="1"/>
<rect x="619.60" y="211.20" width="13.40" height="12.60" fill="#f29499" stroke="none" stroke-width="1"/>
<rect x="632.70" y="211.20" width="13.40" height="12.60" fill="#fceced" stroke="none" stroke-width="1"/>
<rect x="514.80" y="223.50" width="13.40" height="12.60" fill="#326499" stroke="none" stroke-width="1"/>
<rect x="527.90" y="223.50" width="13.40" height="12.60" fill="#326499" stroke="none" stroke-width="1"/>
<rect x="541.00" y="223.50" width="13.40" height="12.60" fill="#34679b" stroke="none" stroke-width="1"/>
<rect x="554.10" y="223.50" width="13.40" height="12.60" fill="#34679b" stroke="none" stroke-width="1"/>
<rect x="567.20" y="223.50" width="13.40" height="12.60" fill="#306297" stroke="none" stroke-width="1"/>
<rect x="580.30" y="223.50" width="13.40" height="12.60" fill="#f3a2a7" stroke="none" stroke-width="1"/>
<rect x="593.40" y="223.50" width="13.40" height="12.60" fill="#f0343a" stroke="none" stroke-width="1"/>
<rect x="606.50" y="223.50" width="13.40" height="12.60" fill="#548ab4" stroke="none" stroke-width="1"/>
<rect x="619.60" y="223.50" width="13.40" height="12.60" fill="#f29499" stroke="none" stroke-width="1"/>
<rect x="632.70" y="223.50" width="13.40" height="12.60" fill="#82afcc" stroke="none" stroke-width="1"/>
<rect x="514.80" y="235.80" width="13.40" height="12.60" fill="#5a90b8" stroke="none" stroke-width="1"/>
<rect x="527.90" y="235.80" width="13.40" height="12.60" fill="#3e74a4" stroke="none" stroke-width="1"/>
<rect x="541.00" y="235.80" width="13.40" height="12.60" fill="#548ab4" stroke="none" stroke-width="1"/>
<rect x="554.10" y="235.80" width="13.40" height="12.60" fill="#4b82ae" stroke="none" stroke-width="1"/>
<rect x="567.20" y="235.80" width="13.40" height="12.60" fill="#306297" stroke="none" stroke-width="1"/>
<rect x="580.30" y="235.80" width="13.40" height="12.60" fill="#f03e44" stroke="none" stroke-width="1"/>
<rect x="593.40" y="235.80" width="13.40" height="12.60" fill="#f4abb0" stroke="none" stroke-width="1"/>
<rect x="606.50" y="235.80" width="13.40" height="12.60" fill="#ffffff" stroke="none" stroke-width="1"/>
<rect x="619.60" y="235.80" width="13.40" height="12.60" fill="#dae8f0" stroke="none" stroke-width="1"/>
<rect x="632.70" y="235.80" width="13.40" height="12.60" fill="#c0d8e6" stroke="none" stroke-width="1"/>
<rect x="514.80" y="248.10" width="13.40" height="12.60" fill="#326499" stroke="none" stroke-width="1"/>
<rect x="527.90" y="248.10" width="13.40" height="12.60" fill="#326499" stroke="none" stroke-width="1"/>
<rect x="541.00" y="248.10" width="13.40" height="12.60" fill="#2e5f95" stroke="none" stroke-width="1"/>
<rect x="554.10" y="248.10" width="13.40" height="12.60" fill="#4279a8" stroke="none" stroke-width="1"/>
<rect x="567.20" y="248.10" width="13.40" height="12.60" fill="#3a6fa0" stroke="none" stroke-width="1"/>
<rect x="580.30" y="248.10" width="13.40" height="12.60" fill="#f17d83" stroke="none" stroke-width="1"/>
<rect x="593.40" y="248.10" width="13.40" height="12.60" fill="#f2868c" stroke="none" stroke-width="1"/>
<rect x="606.50" y="248.10" width="13.40" height="12.60" fill="#e8f1f6" stroke="none" stroke-width="1"/>
<rect x="619.60" y="248.10" width="13.40" height="12.60" fill="#accbde" stroke="none" stroke-width="1"/>
<rect x="632.70" y="248.10" width="13.40" height="12.60" fill="#f03e44" stroke="none" stroke-width="1"/>
<rect x="514.80" y="260.40" width="13.40" height="12.60" fill="#f05c62" stroke="none" stroke-width="1"/>
<rect x="527.90" y="260.40" width="13.40" height="12.60" fill="#f04f55" stroke="none" stroke-width="1"/>
<rect x="541.00" y="260.40" width="13.40" height="12.60" fill="#f0454b" stroke="none" stroke-width="1"/>
<rect x="554.10" y="260.40" width="13.40" height="12.60" fill="#f4abb0" stroke="none" stroke-width="1"/>
<rect x="567.20" y="260.40" width="13.40" height="12.60" fill="#f03b41" stroke="none" stroke-width="1"/>
<rect x="580.30" y="260.40" width="13.40" height="12.60" fill="#6096bc" stroke="none" stroke-width="1"/>
<rect x="593.40" y="260.40" width="13.40" height="12.60" fill="#34679b" stroke="none" stroke-width="1"/>
<rect x="606.50" y="260.40" width="13.40" height="12.60" fill="#548ab4" stroke="none" stroke-width="1"/>
<rect x="619.60" y="260.40" width="13.40" height="12.60" fill="#cde0eb" stroke="none" stroke-width="1"/>
<rect x="632.70" y="260.40" width="13.40" height="12.60" fill="#3e74a4" stroke="none" stroke-width="1"/>
<rect x="514.80" y="272.70" width="13.40" height="12.60" fill="#fbe0e2" stroke="none" stroke-width="1"/>
<rect x="527.90" y="272.70" width="13.40" height="12.60" fill="#f0555b" stroke="none" stroke-width="1"/>
<rect x="541.00" y="272.70" width="13.40" height="12.60" fill="#f03e44" stroke="none" stroke-width="1"/>
<rect x="554.10" y="272.70" width="13.40" height="12.60" fill="#f05c62" stroke="none" stroke-width="1"/>
<rect x="567.20" y="272.70" width="13.40" height="12.60" fill="#f5b4b8" stroke="none" stroke-width="1"/>
<rect x="580.30" y="272.70" width="13.40" height="12.60" fill="#8db7d2" stroke="none" stroke-width="1"/>
<rect x="593.40" y="272.70" width="13.40" height="12.60" fill="#c0d8e6" stroke="none" stroke-width="1"/>
<rect x="606.50" y="272.70" width="13.40" height="12.60" fill="#98bfd7" stroke="none" stroke-width="1"/>
<rect x="619.60" y="272.70" width="13.40" height="12.60" fill="#cde0eb" stroke="none" stroke-width="1"/>
<rect x="632.70" y="272.70" width="13.40" height="12.60" fill="#34679b" stroke="none" stroke-width="1"/>
<rect x="514.80" y="285.00" width="13.40" height="12.60" fill="#f17d83" stroke="none" stroke-width="1"/>
<rect x="527.90" y="285.00" width="13.40" height="12.60" fill="#f3a2a7" stroke="none" stroke-width="1"/>
<rect x="541.00" y="285.00" width="13.40" height="12.60" fill="#f0555b" stroke="none" stroke-width="1"/>
<rect x="554.10" y="285.00" width="13.40" height="12.60" fill="#f2868c" stroke="none" stroke-width="1"/>
<rect x="567.20" y="285.00" width="13.40" height="12.60" fill="#f03e44" stroke="none" stroke-width="1"/>
<rect x="580.30" y="285.00" width="13.40" height="12.60" fill="#34679b" stroke="none" stroke-width="1"/>
<rect x="593.40" y="285.00" width="13.40" height="12.60" fill="#ffffff" stroke="none" stroke-width="1"/>
<rect x="606.50" y="285.00" width="13.40" height="12.60" fill="#4b82ae" stroke="none" stroke-width="1"/>
<rect x="619.60" y="285.00" width="13.40" height="12.60" fill="#82afcc" stroke="none" stroke-width="1"/>
<rect x="632.70" y="285.00" width="13.40" height="12.60" fill="#82afcc" stroke="none" stroke-width="1"/>
<rect x="514.80" y="211.20" width="131.00" height="86.10" fill="none" stroke="#111" stroke-width="0.9"/>
<line x1="511.80" y1="217.35" x2="514.80" y2="217.35" stroke="#111" stroke-width="0.9"/>
<text x="511.10" y="220.15" font-size="8" text-anchor="end" fill="#111" stroke="#111" stroke-width="0.18">N-cadherin</text>
<line x1="511.80" y1="229.65" x2="514.80" y2="229.65" stroke="#111" stroke-width="0.9"/>
<text x="511.10" y="232.45" font-size="8" text-anchor="end" fill="#111" stroke="#111" stroke-width="0.18">Vimentin</text>
<line x1="511.80" y1="241.95" x2="514.80" y2="241.95" stroke="#111" stroke-width="0.9"/>
<text x="511.10" y="244.75" font-size="8" text-anchor="end" fill="#111" stroke="#111" stroke-width="0.18">Fibronectin</text>
<line x1="511.80" y1="254.25" x2="514.80" y2="254.25" stroke="#111" stroke-width="0.9"/>
<text x="511.10" y="257.05" font-size="8" text-anchor="end" fill="#111" stroke="#111" stroke-width="0.18">α-SMA</text>
<line x1="511.80" y1="266.55" x2="514.80" y2="266.55" stroke="#111" stroke-width="0.9"/>
<text x="511.10" y="269.35" font-size="8" text-anchor="end" fill="#111" stroke="#111" stroke-width="0.18">E-cadherin</text>
<line x1="511.80" y1="278.85" x2="514.80" y2="278.85" stroke="#111" stroke-width="0.9"/>
<text x="511.10" y="281.65" font-size="8" text-anchor="end" fill="#111" stroke="#111" stroke-width="0.18">Claudin-1</text>
<line x1="511.80" y1="291.15" x2="514.80" y2="291.15" stroke="#111" stroke-width="0.9"/>
<text x="511.10" y="293.95" font-size="8" text-anchor="end" fill="#111" stroke="#111" stroke-width="0.18">Occludin</text>
<text x="521.35" y="208.20" font-size="8" text-anchor="middle" fill="#111" stroke="#111" stroke-width="0.18">1</text>
<line x1="521.35" y1="297.30" x2="521.35" y2="299.50" stroke="#222" stroke-width="0.8"/>
<text x="534.45" y="208.20" font-size="8" text-anchor="middle" fill="#111" stroke="#111" stroke-width="0.18">2</text>
<line x1="534.45" y1="297.30" x2="534.45" y2="299.50" stroke="#222" stroke-width="0.8"/>
<text x="547.55" y="208.20" font-size="8" text-anchor="middle" fill="#111" stroke="#111" stroke-width="0.18">3</text>
<line x1="547.55" y1="297.30" x2="547.55" y2="299.50" stroke="#222" stroke-width="0.8"/>
<text x="560.65" y="208.20" font-size="8" text-anchor="middle" fill="#111" stroke="#111" stroke-width="0.18">4</text>
<line x1="560.65" y1="297.30" x2="560.65" y2="299.50" stroke="#222" stroke-width="0.8"/>
<text x="573.75" y="208.20" font-size="8" text-anchor="middle" fill="#111" stroke="#111" stroke-width="0.18">5</text>
<line x1="573.75" y1="297.30" x2="573.75" y2="299.50" stroke="#222" stroke-width="0.8"/>
<text x="586.85" y="208.20" font-size="8" text-anchor="middle" fill="#111" stroke="#111" stroke-width="0.18">1</text>
<line x1="586.85" y1="297.30" x2="586.85" y2="299.50" stroke="#222" stroke-width="0.8"/>
<text x="599.95" y="208.20" font-size="8" text-anchor="middle" fill="#111" stroke="#111" stroke-width="0.18">2</text>
<line x1="599.95" y1="297.30" x2="599.95" y2="299.50" stroke="#222" stroke-width="0.8"/>
<text x="613.05" y="208.20" font-size="8" text-anchor="middle" fill="#111" stroke="#111" stroke-width="0.18">3</text>
<line x1="613.05" y1="297.30" x2="613.05" y2="299.50" stroke="#222" stroke-width="0.8"/>
<text x="626.15" y="208.20" font-size="8" text-anchor="middle" fill="#111" stroke="#111" stroke-width="0.18">4</text>
<line x1="626.15" y1="297.30" x2="626.15" y2="299.50" stroke="#222" stroke-width="0.8"/>
<text x="639.25" y="208.20" font-size="8" text-anchor="middle" fill="#111" stroke="#111" stroke-width="0.18">5</text>
<line x1="639.25" y1="297.30" x2="639.25" y2="299.50" stroke="#222" stroke-width="0.8"/>
<text x="547.80" y="194.20" font-size="8" text-anchor="middle" fill="#111" stroke="#111" stroke-width="0.18">MSK1 Low</text>
<text x="613.30" y="194.20" font-size="8" text-anchor="middle" fill="#111" stroke="#111" stroke-width="0.18">MSK1 High</text>
<line x1="518.10" y1="198.10" x2="579.50" y2="198.10" stroke="#444" stroke-width="0.8"/>
<line x1="583.20" y1="198.10" x2="643.70" y2="198.10" stroke="#444" stroke-width="0.8"/>
<text x="580.00" y="307.00" font-size="8" text-anchor="middle" fill="#111" stroke="#111" stroke-width="0.18">GSE 40967</text>
<rect x="656.20" y="211.20" width="11.40" height="86.20" fill="url(#cb)" stroke="#111" stroke-width="0.8"/>
<text x="671.10" y="213.60" font-size="8.2" text-anchor="start" fill="#111" stroke="#111" stroke-width="0.18">100</text>
<line x1="656.20" y1="228.44" x2="658.00" y2="228.44" stroke="#111" stroke-width="0.9"/>
<line x1="665.80" y1="228.44" x2="667.60" y2="228.44" stroke="#111" stroke-width="0.9"/>
<text x="671.10" y="230.84" font-size="8.2" text-anchor="start" fill="#111" stroke="#111" stroke-width="0.18">80</text>
<line x1="656.20" y1="245.68" x2="658.00" y2="245.68" stroke="#111" stroke-width="0.9"/>
<line x1="665.80" y1="245.68" x2="667.60" y2="245.68" stroke="#111" stroke-width="0.9"/>
<text x="671.10" y="248.08" font-size="8.2" text-anchor="start" fill="#111" stroke="#111" stroke-width="0.18">60</text>
<line x1="656.20" y1="262.92" x2="658.00" y2="262.92" stroke="#111" stroke-width="0.9"/>
<line x1="665.80" y1="262.92" x2="667.60" y2="262.92" stroke="#111" stroke-width="0.9"/>
<text x="671.10" y="265.32" font-size="8.2" text-anchor="start" fill="#111" stroke="#111" stroke-width="0.18">40</text>
<line x1="656.20" y1="280.16" x2="658.00" y2="280.16" stroke="#111" stroke-width="0.9"/>
<line x1="665.80" y1="280.16" x2="667.60" y2="280.16" stroke="#111" stroke-width="0.9"/>
<text x="671.10" y="282.56" font-size="8.2" text-anchor="start" fill="#111" stroke="#111" stroke-width="0.18">20</text>
<text x="671.10" y="299.80" font-size="8.2" text-anchor="start" fill="#111" stroke="#111" stroke-width="0.18">0</text>
<text x="6.80" y="346.80" font-size="13" text-anchor="start" font-weight="bold" fill="#000">g</text>
<text x="63.70" y="394.70" font-size="7.6" text-anchor="start" fill="#111" stroke="#111" stroke-width="0.18" transform="rotate(-90 63.7 394.7)">Control</text>
<text x="82.90" y="394.70" font-size="7.6" text-anchor="start" fill="#111" stroke="#111" stroke-width="0.18" transform="rotate(-90 82.9 394.7)">Flag-MSK1</text>
<rect x="47.40" y="400.10" width="46.20" height="15.30" fill="#d4d4d4" stroke="#1a1a1a" stroke-width="0.9"/>
<rect x="72.25" y="406.10" width="18.50" height="4.60" rx="2.30" fill="#1e1e1e" opacity="0.95" filter="url(#bb)"/>
<text x="43.90" y="409.75" font-size="8.1" text-anchor="end" fill="#111" stroke="#111" stroke-width="0.18">Flag</text>
<line x1="93.60" y1="409.00" x2="97.90" y2="409.00" stroke="#111" stroke-width="1.4"/>
<text x="98.80" y="411.50" font-size="6.8" text-anchor="start" fill="#333" stroke="#333" stroke-width="0.18">100</text>
<rect x="47.40" y="418.30" width="46.20" height="15.60" fill="#c6c6c6" stroke="#1a1a1a" stroke-width="0.9"/>
<rect x="53.80" y="426.00" width="12.00" height="3.00" rx="1.50" fill="#1e1e1e" opacity="0.28" filter="url(#bb)"/>
<rect x="73.45" y="424.20" width="17.50" height="4.80" rx="2.40" fill="#1e1e1e" opacity="0.95" filter="url(#bb)"/>
<text x="43.90" y="428.10" font-size="8.1" text-anchor="end" fill="#111" stroke="#111" stroke-width="0.18">Snail</text>
<line x1="93.60" y1="422.40" x2="97.90" y2="422.40" stroke="#111" stroke-width="1.4"/>
<text x="98.80" y="424.90" font-size="6.8" text-anchor="start" fill="#333" stroke="#333" stroke-width="0.18">35</text>
<rect x="47.40" y="436.50" width="46.20" height="15.60" fill="#cfcfcf" stroke="#1a1a1a" stroke-width="0.9"/>
<rect x="53.50" y="442.90" width="13.00" height="3.20" rx="1.60" fill="#1e1e1e" opacity="0.78" filter="url(#bb)"/>
<rect x="75.95" y="442.60" width="13.50" height="3.20" rx="1.60" fill="#1e1e1e" opacity="0.65" filter="url(#bb)"/>
<text x="43.90" y="446.30" font-size="8.1" text-anchor="end" fill="#111" stroke="#111" stroke-width="0.18">Slug</text>
<line x1="93.60" y1="441.20" x2="97.90" y2="441.20" stroke="#111" stroke-width="1.4"/>
<text x="98.80" y="443.70" font-size="6.8" text-anchor="start" fill="#333" stroke="#333" stroke-width="0.18">35</text>
<rect x="47.40" y="455.60" width="46.20" height="15.90" fill="#d6d6d6" stroke="#1a1a1a" stroke-width="0.9"/>
<rect x="54.55" y="463.85" width="12.50" height="1.30" rx="0.65" fill="#1e1e1e" opacity="0.4" filter="url(#bb)"/>
<rect x="75.60" y="463.85" width="13.00" height="1.30" rx="0.65" fill="#1e1e1e" opacity="0.38" filter="url(#bb)"/>
<text x="43.90" y="465.55" font-size="8.1" text-anchor="end" fill="#111" stroke="#111" stroke-width="0.18">Twist</text>
<line x1="93.60" y1="458.40" x2="97.90" y2="458.40" stroke="#111" stroke-width="1.4"/>
<text x="98.80" y="460.90" font-size="6.8" text-anchor="start" fill="#333" stroke="#333" stroke-width="0.18">35</text>
<rect x="47.40" y="475.40" width="46.20" height="15.70" fill="#d4d4d4" stroke="#1a1a1a" stroke-width="0.9"/>
<rect x="54.00" y="484.30" width="14.00" height="1.60" rx="0.80" fill="#1e1e1e" opacity="0.3" filter="url(#bb)"/>
<rect x="64.45" y="484.00" width="3.50" height="2.20" rx="1.10" fill="#1e1e1e" opacity="0.75" filter="url(#bb)"/>
<rect x="73.75" y="482.40" width="15.50" height="3.20" rx="1.60" fill="#1e1e1e" opacity="0.68" filter="url(#bb)"/>
<text x="43.90" y="485.25" font-size="8.1" text-anchor="end" fill="#111" stroke="#111" stroke-width="0.18">Fibronectin</text>
<line x1="93.60" y1="487.20" x2="97.90" y2="487.20" stroke="#111" stroke-width="1.4"/>
<text x="98.80" y="489.70" font-size="6.8" text-anchor="start" fill="#333" stroke="#333" stroke-width="0.18">245</text>
<rect x="47.40" y="494.30" width="46.20" height="16.30" fill="#d2d2d2" stroke="#1a1a1a" stroke-width="0.9"/>
<rect x="53.20" y="502.10" width="14.00" height="2.60" rx="1.30" fill="#1e1e1e" opacity="0.75" filter="url(#bb)"/>
<rect x="73.25" y="501.95" width="16.50" height="2.90" rx="1.45" fill="#1e1e1e" opacity="0.9" filter="url(#bb)"/>
<text x="43.90" y="504.45" font-size="8.1" text-anchor="end" fill="#111" stroke="#111" stroke-width="0.18">N-cadherin</text>
<line x1="93.60" y1="506.00" x2="97.90" y2="506.00" stroke="#111" stroke-width="1.4"/>
<text x="98.80" y="508.50" font-size="6.8" text-anchor="start" fill="#333" stroke="#333" stroke-width="0.18">100</text>
<rect x="47.40" y="513.40" width="46.20" height="15.30" fill="#d4d4d4" stroke="#1a1a1a" stroke-width="0.9"/>
<rect x="59.30" y="519.20" width="1.80" height="1.60" rx="0.80" fill="#1e1e1e" opacity="0.6" filter="url(#bb)"/>
<rect x="73.95" y="517.90" width="14.50" height="3.20" rx="1.60" fill="#1e1e1e" opacity="0.88" filter="url(#bb)"/>
<rect x="74.20" y="521.70" width="14.00" height="2.20" rx="1.10" fill="#1e1e1e" opacity="0.5" filter="url(#bb)"/>
<text x="43.90" y="523.05" font-size="8.1" text-anchor="end" fill="#111" stroke="#111" stroke-width="0.18">Vimentin</text>
<line x1="93.60" y1="517.50" x2="97.90" y2="517.50" stroke="#111" stroke-width="1.4"/>
<text x="98.80" y="520.00" font-size="6.8" text-anchor="start" fill="#333" stroke="#333" stroke-width="0.18">63</text>
<line x1="93.60" y1="527.70" x2="97.90" y2="527.70" stroke="#111" stroke-width="1.4"/>
<text x="98.80" y="530.20" font-size="6.8" text-anchor="start" fill="#333" stroke="#333" stroke-width="0.18">48</text>
<rect x="47.40" y="531.50" width="46.20" height="15.10" fill="#c4c4c4" stroke="#1a1a1a" stroke-width="0.9"/>
<rect x="52.05" y="538.80" width="15.50" height="2.40" rx="1.20" fill="#1e1e1e" opacity="1" filter="url(#bb)"/>
<rect x="74.80" y="539.30" width="14.00" height="1.40" rx="0.70" fill="#1e1e1e" opacity="0.45" filter="url(#bb)"/>
<text x="43.90" y="541.05" font-size="8.1" text-anchor="end" fill="#111" stroke="#111" stroke-width="0.18">E-cadherin</text>
<line x1="93.60" y1="542.50" x2="97.90" y2="542.50" stroke="#111" stroke-width="1.4"/>
<text x="98.80" y="545.00" font-size="6.8" text-anchor="start" fill="#333" stroke="#333" stroke-width="0.18">100</text>
<rect x="47.40" y="549.30" width="46.20" height="16.10" fill="#d2d2d2" stroke="#1a1a1a" stroke-width="0.9"/>
<rect x="57.95" y="556.20" width="10.50" height="3.60" rx="1.80" fill="#1e1e1e" opacity="0.95" filter="url(#bb)"/>
<rect x="76.00" y="556.90" width="11.00" height="2.20" rx="1.10" fill="#1e1e1e" opacity="0.25" filter="url(#bb)"/>
<text x="43.90" y="559.35" font-size="8.1" text-anchor="end" fill="#111" stroke="#111" stroke-width="0.18">Occludin</text>
<line x1="93.60" y1="552.00" x2="97.90" y2="552.00" stroke="#111" stroke-width="1.4"/>
<text x="98.80" y="554.50" font-size="6.8" text-anchor="start" fill="#333" stroke="#333" stroke-width="0.18">63</text>
<line x1="93.60" y1="562.60" x2="97.90" y2="562.60" stroke="#111" stroke-width="1.4"/>
<text x="98.80" y="565.10" font-size="6.8" text-anchor="start" fill="#333" stroke="#333" stroke-width="0.18">48</text>
<rect x="47.40" y="568.30" width="46.20" height="15.10" fill="#d0d0d0" stroke="#1a1a1a" stroke-width="0.9"/>
<rect x="52.95" y="574.80" width="14.50" height="2.80" rx="1.40" fill="#1e1e1e" opacity="0.6" filter="url(#bb)"/>
<rect x="75.80" y="575.00" width="12.00" height="2.40" rx="1.20" fill="#1e1e1e" opacity="0.42" filter="url(#bb)"/>
<text x="43.90" y="577.85" font-size="8.1" text-anchor="end" fill="#111" stroke="#111" stroke-width="0.18">Claudin-1</text>
<line x1="93.60" y1="572.00" x2="97.90" y2="572.00" stroke="#111" stroke-width="1.4"/>
<text x="98.80" y="574.50" font-size="6.8" text-anchor="start" fill="#333" stroke="#333" stroke-width="0.18">20</text>
<rect x="47.40" y="586.20" width="46.20" height="15.80" fill="#cccccc" stroke="#1a1a1a" stroke-width="0.9"/>
<rect x="50.30" y="592.80" width="17.20" height="4.80" rx="2.40" fill="#1e1e1e" opacity="1" filter="url(#bb)"/>
<rect x="71.40" y="592.80" width="19.00" height="4.80" rx="2.40" fill="#1e1e1e" opacity="1" filter="url(#bb)"/>
<text x="43.90" y="596.10" font-size="8.1" text-anchor="end" fill="#111" stroke="#111" stroke-width="0.18">α-tubulin</text>
<line x1="93.60" y1="589.30" x2="97.90" y2="589.30" stroke="#111" stroke-width="1.4"/>
<text x="98.80" y="591.80" font-size="6.8" text-anchor="start" fill="#333" stroke="#333" stroke-width="0.18">63</text>
<line x1="93.60" y1="599.60" x2="97.90" y2="599.60" stroke="#111" stroke-width="1.4"/>
<text x="98.80" y="602.10" font-size="6.8" text-anchor="start" fill="#333" stroke="#333" stroke-width="0.18">48</text>
<line x1="113.30" y1="478.90" x2="113.30" y2="526.20" stroke="#222" stroke-width="0.8"/>
<line x1="113.20" y1="533.00" x2="113.20" y2="582.80" stroke="#222" stroke-width="0.8"/>
<text x="116.60" y="503.20" font-size="8.1" text-anchor="middle" fill="#111" stroke="#111" stroke-width="0.18" transform="rotate(90 116.6 503.2)">Mesenchymal</text>
<text x="116.60" y="557.70" font-size="8.1" text-anchor="middle" fill="#111" stroke="#111" stroke-width="0.18" transform="rotate(90 116.6 557.7)">Epithelial</text>
<text x="70.20" y="612.40" font-size="8" text-anchor="middle" fill="#111" stroke="#111" stroke-width="0.18">SW480</text>
<text x="148.90" y="347.20" font-size="13" text-anchor="start" font-weight="bold" fill="#000">i</text>
<line x1="184.30" y1="357.60" x2="184.30" y2="451.90" stroke="#444" stroke-width="0.8"/>
<line x1="184.30" y1="451.90" x2="300.80" y2="451.90" stroke="#444" stroke-width="0.8"/>
<line x1="182.30" y1="451.90" x2="184.30" y2="451.90" stroke="#444" stroke-width="0.8"/>
<text x="178.60" y="454.70" font-size="8" text-anchor="end" fill="#111" stroke="#111" stroke-width="0.18">0</text>
<line x1="182.30" y1="428.30" x2="184.30" y2="428.30" stroke="#444" stroke-width="0.8"/>
<text x="178.60" y="431.10" font-size="8" text-anchor="end" fill="#111" stroke="#111" stroke-width="0.18">5</text>
<line x1="182.30" y1="404.70" x2="184.30" y2="404.70" stroke="#444" stroke-width="0.8"/>
<text x="178.60" y="407.50" font-size="8" text-anchor="end" fill="#111" stroke="#111" stroke-width="0.18">10</text>
<line x1="182.30" y1="381.10" x2="184.30" y2="381.10" stroke="#444" stroke-width="0.8"/>
<text x="178.60" y="383.90" font-size="8" text-anchor="end" fill="#111" stroke="#111" stroke-width="0.18">15</text>
<line x1="182.30" y1="357.50" x2="184.30" y2="357.50" stroke="#444" stroke-width="0.8"/>
<text x="178.60" y="360.30" font-size="8" text-anchor="end" fill="#111" stroke="#111" stroke-width="0.18">20</text>
<line x1="184.30" y1="451.90" x2="184.30" y2="453.90" stroke="#444" stroke-width="0.8"/>
<text x="184.80" y="463.00" font-size="8" text-anchor="middle" fill="#111" stroke="#111" stroke-width="0.18">0</text>
<line x1="213.38" y1="451.90" x2="213.38" y2="453.90" stroke="#444" stroke-width="0.8"/>
<text x="213.88" y="463.00" font-size="8" text-anchor="middle" fill="#111" stroke="#111" stroke-width="0.18">24</text>
<line x1="242.45" y1="451.90" x2="242.45" y2="453.90" stroke="#444" stroke-width="0.8"/>
<text x="242.95" y="463.00" font-size="8" text-anchor="middle" fill="#111" stroke="#111" stroke-width="0.18">48</text>
<line x1="271.52" y1="451.90" x2="271.52" y2="453.90" stroke="#444" stroke-width="0.8"/>
<text x="272.02" y="463.00" font-size="8" text-anchor="middle" fill="#111" stroke="#111" stroke-width="0.18">72</text>
<line x1="300.60" y1="451.90" x2="300.60" y2="453.90" stroke="#444" stroke-width="0.8"/>
<text x="301.10" y="463.00" font-size="8" text-anchor="middle" fill="#111" stroke="#111" stroke-width="0.18">96</text>
<text x="306.80" y="463.00" font-size="8" text-anchor="start" fill="#111" stroke="#111" stroke-width="0.18">(hrs)</text>
<text x="161.90" y="404.50" font-size="8.3" text-anchor="middle" fill="#111" stroke="#111" stroke-width="0.18" transform="rotate(-90 161.9 404.5)">Cell number (1 X 10<tspan font-size="5.2" dy="-3">5</tspan><tspan dy="3"> cells)</tspan></text>
<path d="M184.30,447.18 L213.38,443.40 L242.45,436.32 L271.52,416.97 L299.39,374.02" stroke="#e03a3a" stroke-width="1.8" fill="none"/>
<path d="M184.30,447.18 L213.38,443.40 L242.45,436.32 L271.52,416.97 L299.39,374.02" stroke="#4a2323" stroke-width="1.2" fill="none"/>
<rect x="181.30" y="444.18" width="6.00" height="6.00" fill="#f03b40" stroke="none" stroke-width="1"/>
<rect x="181.80" y="444.68" width="5.00" height="5.00" fill="#2e2a2a" stroke="none" stroke-width="1"/>
<rect x="210.38" y="440.40" width="6.00" height="6.00" fill="#f03b40" stroke="none" stroke-width="1"/>
<rect x="210.88" y="440.90" width="5.00" height="5.00" fill="#2e2a2a" stroke="none" stroke-width="1"/>
<rect x="239.45" y="433.32" width="6.00" height="6.00" fill="#f03b40" stroke="none" stroke-width="1"/>
<rect x="239.95" y="433.82" width="5.00" height="5.00" fill="#2e2a2a" stroke="none" stroke-width="1"/>
<rect x="268.52" y="413.97" width="6.00" height="6.00" fill="#f03b40" stroke="none" stroke-width="1"/>
<rect x="269.02" y="414.47" width="5.00" height="5.00" fill="#2e2a2a" stroke="none" stroke-width="1"/>
<rect x="298.20" y="368.60" width="2.80" height="7.00" fill="#f03b40" stroke="none" stroke-width="1"/>
<rect x="298.40" y="370.20" width="2.40" height="5.40" fill="#2e2a2a" stroke="none" stroke-width="1"/>
<text x="213.38" y="436.40" font-size="8" text-anchor="middle" fill="#111" stroke="#111" stroke-width="0.18">ns</text>
<text x="242.45" y="429.30" font-size="8" text-anchor="middle" fill="#111" stroke="#111" stroke-width="0.18">ns</text>
<text x="271.52" y="409.90" font-size="8" text-anchor="middle" fill="#111" stroke="#111" stroke-width="0.18">ns</text>
<text x="300.60" y="364.90" font-size="8" text-anchor="middle" fill="#111" stroke="#111" stroke-width="0.18">ns</text>
<line x1="201.30" y1="363.50" x2="210.80" y2="363.50" stroke="#333" stroke-width="1.2"/>
<circle cx="206" cy="363.5" r="2.6" fill="#333"/>
<text x="213.70" y="366.30" font-size="8" text-anchor="start" fill="#111" stroke="#111" stroke-width="0.18">Control</text>
<line x1="201.30" y1="376.70" x2="210.80" y2="376.70" stroke="#f03b40" stroke-width="1.2"/>
<rect x="203.20" y="373.70" width="5.80" height="6.00" fill="#f03b40" stroke="none" stroke-width="1"/>
<text x="213.70" y="379.50" font-size="8" text-anchor="start" fill="#111" stroke="#111" stroke-width="0.18">MSK1</text>
<text x="334.60" y="345.50" font-size="13" text-anchor="start" font-weight="bold" fill="#000">j</text>
<text x="388.60" y="358.00" font-size="8" text-anchor="middle" fill="#111" stroke="#111" stroke-width="0.18">Control</text>
<text x="459.80" y="358.00" font-size="8" text-anchor="middle" fill="#111" stroke="#111" stroke-width="0.18">MSK1</text>
<rect x="354.50" y="361.80" width="68.00" height="32.30" fill="#d5d5d5" stroke="none" stroke-width="1"/>
<rect x="354.50" y="361.80" width="68.00" height="32.30" fill="#000" stroke="none" stroke-width="1" filter="url(#noise)" opacity="0.17"/>
<rect x="426.00" y="361.80" width="68.00" height="32.30" fill="#d5d5d5" stroke="none" stroke-width="1"/>
<rect x="426.00" y="361.80" width="68.00" height="32.30" fill="#000" stroke="none" stroke-width="1" filter="url(#noise)" opacity="0.17"/>
<rect x="354.50" y="397.20" width="68.00" height="32.30" fill="#d5d5d5" stroke="none" stroke-width="1"/>
<rect x="354.50" y="397.20" width="68.00" height="32.30" fill="#000" stroke="none" stroke-width="1" filter="url(#noise)" opacity="0.17"/>
<rect x="426.00" y="397.20" width="68.00" height="32.30" fill="#d5d5d5" stroke="none" stroke-width="1"/>
<rect x="426.00" y="397.20" width="68.00" height="32.30" fill="#000" stroke="none" stroke-width="1" filter="url(#noise)" opacity="0.17"/>
<rect x="354.50" y="431.90" width="68.00" height="32.30" fill="#d5d5d5" stroke="none" stroke-width="1"/>
<rect x="354.50" y="431.90" width="68.00" height="32.30" fill="#000" stroke="none" stroke-width="1" filter="url(#noise)" opacity="0.17"/>
<rect x="426.00" y="431.90" width="68.00" height="32.30" fill="#d5d5d5" stroke="none" stroke-width="1"/>
<rect x="426.00" y="431.90" width="68.00" height="32.30" fill="#000" stroke="none" stroke-width="1" filter="url(#noise)" opacity="0.17"/>
<polygon points="376.7,362 400.7,362 400.7,393.8 376.7,393.8" fill="#dadada" opacity="0.75"/>
<polygon points="450.5,362 469.2,362 469.2,393.8 450.5,393.8" fill="#dadada" opacity="0.75"/>
<polygon points="379.3,397.5 380.2,411.9 385.6,417.8 383.9,429.2 392.6,429.2 393.7,422.4 394.9,397.5" fill="#dadada" opacity="0.75"/>
<polygon points="459.2,397.5 456.8,407.2 458,429.2 466.2,429.2 463.8,413.1 464.5,397.5" fill="#dadada" opacity="0.75"/>
<polygon points="379.7,432.2 382,450.5 387.9,464.2 394.9,464.2 389,448.1 392.6,443.5 391.4,432.2" fill="#dadada" opacity="0.75"/>
<rect x="354.50" y="361.80" width="68.00" height="32.30" fill="none" stroke="#111" stroke-width="1.25"/>
<rect x="426.00" y="361.80" width="68.00" height="32.30" fill="none" stroke="#111" stroke-width="1.25"/>
<rect x="354.50" y="397.20" width="68.00" height="32.30" fill="none" stroke="#111" stroke-width="1.25"/>
<rect x="426.00" y="397.20" width="68.00" height="32.30" fill="none" stroke="#111" stroke-width="1.25"/>
<rect x="354.50" y="431.90" width="68.00" height="32.30" fill="none" stroke="#111" stroke-width="1.25"/>
<rect x="426.00" y="431.90" width="68.00" height="32.30" fill="none" stroke="#111" stroke-width="1.25"/>
<path d="M376.7,362 L376.7,393.8" stroke="#111" stroke-width="0.8" fill="none" stroke-dasharray="1.7,1.1"/>
<path d="M400.7,362 L400.7,393.8" stroke="#111" stroke-width="0.8" fill="none" stroke-dasharray="1.7,1.1"/>
<path d="M450.5,362 L450.5,393.8" stroke="#111" stroke-width="0.8" fill="none" stroke-dasharray="1.7,1.1"/>
<path d="M469.2,362 L469.2,393.8" stroke="#111" stroke-width="0.8" fill="none" stroke-dasharray="1.7,1.1"/>
<path d="M379.3,397.5 L380.2,411.9 L385.6,417.8 L383.9,429.2" stroke="#111" stroke-width="0.8" fill="none" stroke-dasharray="1.7,1.1"/>
<path d="M394.9,397.5 L393.7,422.4 L392.6,429.2" stroke="#111" stroke-width="0.8" fill="none" stroke-dasharray="1.7,1.1"/>
<path d="M459.2,397.5 L456.8,407.2 L458,429.2" stroke="#111" stroke-width="0.8" fill="none" stroke-dasharray="1.7,1.1"/>
<path d="M464.5,397.5 L463.8,413.1 L466.2,429.2" stroke="#111" stroke-width="0.8" fill="none" stroke-dasharray="1.7,1.1"/>
<path d="M379.7,432.2 L382,450.5 L387.9,464.2" stroke="#111" stroke-width="0.8" fill="none" stroke-dasharray="1.7,1.1"/>
<path d="M391.4,432.2 L392.6,443.5 L389,448.1 L394.9,464.2" stroke="#111" stroke-width="0.8" fill="none" stroke-dasharray="1.7,1.1"/>
<path d="M458,432.2 L461.5,438.8 L465,432.2" stroke="#111" stroke-width="0.8" fill="none" stroke-dasharray="1.7,1.1"/>
<path d="M458,464.2 L460.3,457.5 L463.8,464.2" stroke="#111" stroke-width="0.8" fill="none" stroke-dasharray="1.7,1.1"/>
<text x="351.80" y="383.00" font-size="8" text-anchor="end" fill="#111" stroke="#111" stroke-width="0.18">0 hr</text>
<text x="351.80" y="417.70" font-size="8" text-anchor="end" fill="#111" stroke="#111" stroke-width="0.18">20 hrs</text>
<text x="351.80" y="451.80" font-size="8" text-anchor="end" fill="#111" stroke="#111" stroke-width="0.18">30 hrs</text>
<line x1="532.60" y1="365.00" x2="532.60" y2="457.90" stroke="#444" stroke-width="0.8"/>
<line x1="532.60" y1="457.90" x2="655.00" y2="457.90" stroke="#444" stroke-width="0.8"/>
<line x1="530.60" y1="457.90" x2="532.60" y2="457.90" stroke="#444" stroke-width="0.8"/>
<text x="527.60" y="460.50" font-size="8.4" text-anchor="end" fill="#111" stroke="#111" stroke-width="0.18">0</text>
<line x1="530.60" y1="426.93" x2="532.60" y2="426.93" stroke="#444" stroke-width="0.8"/>
<text x="527.60" y="429.53" font-size="8.4" text-anchor="end" fill="#111" stroke="#111" stroke-width="0.18">25</text>
<line x1="530.60" y1="395.97" x2="532.60" y2="395.97" stroke="#444" stroke-width="0.8"/>
<text x="527.60" y="398.57" font-size="8.4" text-anchor="end" fill="#111" stroke="#111" stroke-width="0.18">50</text>
<line x1="530.60" y1="365.00" x2="532.60" y2="365.00" stroke="#444" stroke-width="0.8"/>
<text x="527.60" y="367.60" font-size="8.4" text-anchor="end" fill="#111" stroke="#111" stroke-width="0.18">75</text>
<line x1="561.90" y1="457.90" x2="561.90" y2="459.90" stroke="#444" stroke-width="0.8"/>
<line x1="626.50" y1="457.90" x2="626.50" y2="459.90" stroke="#444" stroke-width="0.8"/>
<rect x="541.80" y="390.00" width="15.80" height="67.90" fill="#303232" stroke="none" stroke-width="1"/>
<line x1="549.70" y1="390.00" x2="549.70" y2="385.50" stroke="#333" stroke-width="1.2"/>
<line x1="545.30" y1="385.50" x2="554.10" y2="385.50" stroke="#333" stroke-width="1.2"/>
<rect x="566.00" y="418.20" width="15.80" height="39.70" fill="#f03b40" stroke="none" stroke-width="1"/>
<line x1="573.90" y1="418.20" x2="573.90" y2="412.90" stroke="#333" stroke-width="1.2"/>
<line x1="569.50" y1="412.90" x2="578.30" y2="412.90" stroke="#333" stroke-width="1.2"/>
<rect x="606.30" y="421.00" width="15.80" height="36.90" fill="#303232" stroke="none" stroke-width="1"/>
<line x1="614.20" y1="421.00" x2="614.20" y2="417.60" stroke="#333" stroke-width="1.2"/>
<line x1="609.80" y1="417.60" x2="618.60" y2="417.60" stroke="#333" stroke-width="1.2"/>
<rect x="630.80" y="444.70" width="15.80" height="13.20" fill="#f03b40" stroke="none" stroke-width="1"/>
<line x1="638.70" y1="444.70" x2="638.70" y2="437.40" stroke="#333" stroke-width="1.2"/>
<line x1="634.30" y1="437.40" x2="643.10" y2="437.40" stroke="#333" stroke-width="1.2"/>
<path d="M550.3,379.5 V376 H574.2 V403.2" stroke="#222" stroke-width="0.9" fill="none"/>
<path d="M615,412.9 V409.7 H639.2 V432.1" stroke="#222" stroke-width="0.9" fill="none"/>
<text x="562.80" y="374.90" font-size="7.6" text-anchor="middle" fill="#111" stroke="#111" stroke-width="0.18">****</text>
<text x="627.30" y="409.00" font-size="7.6" text-anchor="middle" fill="#111" stroke="#111" stroke-width="0.18">****</text>
<text x="560.80" y="469.00" font-size="8" text-anchor="middle" fill="#111" stroke="#111" stroke-width="0.18">20 hrs</text>
<text x="625.50" y="469.00" font-size="8" text-anchor="middle" fill="#111" stroke="#111" stroke-width="0.18">30 hrs</text>
<rect x="635.30" y="362.40" width="12.60" height="7.90" fill="#303232" stroke="none" stroke-width="1"/>
<rect x="635.30" y="375.40" width="12.60" height="7.60" fill="#f03b40" stroke="none" stroke-width="1"/>
<text x="652.90" y="369.20" font-size="8" text-anchor="start" fill="#111" stroke="#111" stroke-width="0.18">Control</text>
<text x="652.90" y="382.20" font-size="8" text-anchor="start" fill="#111" stroke="#111" stroke-width="0.18">MSK1</text>
<text x="511.70" y="410.70" font-size="8.3" text-anchor="middle" fill="#111" stroke="#111" stroke-width="0.18" transform="rotate(-90 511.7 410.7)">Wounding area (%)</text>
<text x="149.10" y="502.20" font-size="13" text-anchor="start" font-weight="bold" fill="#000">k</text>
<line x1="211.60" y1="518.60" x2="211.60" y2="614.20" stroke="#444" stroke-width="0.8"/>
<line x1="211.60" y1="614.20" x2="277.30" y2="614.20" stroke="#444" stroke-width="0.8"/>
<line x1="209.60" y1="614.20" x2="211.60" y2="614.20" stroke="#444" stroke-width="0.8"/>
<text x="204.60" y="615.80" font-size="8" text-anchor="end" fill="#111" stroke="#111" stroke-width="0.18">0.0</text>
<line x1="209.60" y1="582.33" x2="211.60" y2="582.33" stroke="#444" stroke-width="0.8"/>
<text x="204.60" y="583.93" font-size="8" text-anchor="end" fill="#111" stroke="#111" stroke-width="0.18">5.0</text>
<line x1="209.60" y1="550.47" x2="211.60" y2="550.47" stroke="#444" stroke-width="0.8"/>
<text x="204.60" y="552.07" font-size="8" text-anchor="end" fill="#111" stroke="#111" stroke-width="0.18">10.0</text>
<line x1="209.60" y1="518.60" x2="211.60" y2="518.60" stroke="#444" stroke-width="0.8"/>
<text x="204.60" y="520.20" font-size="8" text-anchor="end" fill="#111" stroke="#111" stroke-width="0.18">15.0</text>
<line x1="230.40" y1="614.20" x2="230.40" y2="616.20" stroke="#444" stroke-width="0.8"/>
<line x1="258.90" y1="614.20" x2="258.90" y2="616.20" stroke="#444" stroke-width="0.8"/>
<rect x="221.00" y="608.20" width="18.90" height="6.00" fill="#303232" stroke="none" stroke-width="1"/>
<line x1="230.45" y1="608.20" x2="230.45" y2="606.90" stroke="#333" stroke-width="1.2"/>
<line x1="226.05" y1="606.90" x2="234.85" y2="606.90" stroke="#333" stroke-width="1.2"/>
<rect x="249.10" y="548.20" width="19.00" height="66.00" fill="#f03b40" stroke="none" stroke-width="1"/>
<line x1="258.60" y1="548.20" x2="258.60" y2="545.50" stroke="#333" stroke-width="1.2"/>
<line x1="254.20" y1="545.50" x2="263.00" y2="545.50" stroke="#333" stroke-width="1.2"/>
<path d="M230.2,599.3 V524.4 H258.7 V530.5" stroke="#333" stroke-width="0.8" fill="none"/>
<text x="244.40" y="523.40" font-size="7.6" text-anchor="middle" fill="#111" stroke="#111" stroke-width="0.18">****</text>
<text x="256.50" y="541.00" font-size="8" text-anchor="middle" fill="#111" stroke="#111" stroke-width="0.18">10.379</text>
<text x="230.20" y="625.60" font-size="8" text-anchor="middle" fill="#111" stroke="#111" stroke-width="0.18">Con</text>
<text x="258.70" y="625.60" font-size="8" text-anchor="middle" fill="#111" stroke="#111" stroke-width="0.18">MSK1</text>
<text x="181.40" y="566.50" font-size="8.3" text-anchor="middle" fill="#111" stroke="#111" stroke-width="0.18" transform="rotate(-90 181.4 566.5)">Invasion fold change</text>
<text x="335.60" y="494.50" font-size="13" text-anchor="start" font-weight="bold" fill="#000">l</text>
<path d="M345.6,522 C346,519 347,517.5 348,517.2 L356,516.1 L372,516.4 L391.4,518 L407.4,520.4 L425.1,523.6 L439.6,525.3 L447.6,527.7 L449.2,532.5 L446,538.1 L439.6,543.7 L430,550.1 L420.3,556.6 L409,561.1 L399.4,562.2 L388.2,561.1 L372.1,558.2 L360.9,550.1 L352.8,537.3 L346.4,526.1 Z" stroke="#ecd6ec" stroke-width="0.8" fill="url(#tisg)"/>
<path d="M345.6,522 C346,519 347,517.5 348,517.2 L356,516.1 L372,516.4 L391.4,518 L407.4,520.4 L425.1,523.6 L439.6,525.3 L447.6,527.7 L449.2,532.5 L446,538.1 L439.6,543.7 L430,550.1 L420.3,556.6 L409,561.1 L399.4,562.2 L388.2,561.1 L372.1,558.2 L360.9,550.1 L352.8,537.3 L346.4,526.1 Z" stroke="none" stroke-width="0" fill="#000" filter="url(#tis)" opacity="0.3"/>
<path d="M339.4,584.5 L345.5,579.3 L356,574.9 L370,572.6 L387.6,571.4 L401.6,570.5 L413.8,570.9 L433.1,571.4 L443.6,573.1 L448.9,579.3 L450.6,584.5 L447.1,591.5 L440.1,599.4 L429.6,607.3 L417.3,612.6 L405.1,617.8 L392.8,619.6 L380.5,617.8 L366.5,612.6 L356,605.5 L345.5,595 L339.4,588 Z" stroke="#ecd6ec" stroke-width="0.8" fill="url(#tisg)"/>
<path d="M339.4,584.5 L345.5,579.3 L356,574.9 L370,572.6 L387.6,571.4 L401.6,570.5 L413.8,570.9 L433.1,571.4 L443.6,573.1 L448.9,579.3 L450.6,584.5 L447.1,591.5 L440.1,599.4 L429.6,607.3 L417.3,612.6 L405.1,617.8 L392.8,619.6 L380.5,617.8 L366.5,612.6 L356,605.5 L345.5,595 L339.4,588 Z" stroke="none" stroke-width="0" fill="#000" filter="url(#tis)" opacity="0.3"/>
<path d="M339.4,586 C345,597 356,606 366,612 C360,600 352,592 339.4,586 Z" stroke="none" stroke-width="0" fill="#efe3f0" opacity="0.7"/>
<text x="337.90" y="557.00" font-size="8" text-anchor="start" fill="#111" stroke="#111" stroke-width="0.18">Control</text>
<text x="337.90" y="620.90" font-size="8" text-anchor="start" fill="#111" stroke="#111" stroke-width="0.18">Flag-MSK1</text>
<rect x="392.30" y="519.70" width="11.80" height="7.20" fill="none" stroke="#111" stroke-width="0.9"/>
<rect x="387.60" y="567.90" width="10.80" height="7.50" fill="none" stroke="#111" stroke-width="0.9"/>
<line x1="404.10" y1="519.70" x2="469.70" y2="498.10" stroke="#222" stroke-width="0.8"/>
<line x1="404.10" y1="526.90" x2="469.70" y2="552.50" stroke="#222" stroke-width="0.8"/>
<line x1="398.40" y1="567.90" x2="469.70" y2="564.20" stroke="#222" stroke-width="0.8"/>
<line x1="398.40" y1="575.40" x2="469.70" y2="618.10" stroke="#222" stroke-width="0.8"/>
<rect x="469.70" y="498.10" width="89.20" height="54.40" fill="#d690d5" stroke="none" stroke-width="1"/>
<rect x="469.70" y="498.10" width="89.20" height="54.40" fill="#000" stroke="none" stroke-width="1" filter="url(#hist)" opacity="0.85"/>
<rect x="469.70" y="498.10" width="89.20" height="54.40" fill="#000" stroke="none" stroke-width="1" filter="url(#hist2)" opacity="0.35"/>
<rect x="469.70" y="564.20" width="89.20" height="53.90" fill="#d690d5" stroke="none" stroke-width="1"/>
<rect x="469.70" y="564.20" width="89.20" height="53.90" fill="#000" stroke="none" stroke-width="1" filter="url(#hist)" opacity="0.85"/>
<rect x="469.70" y="564.20" width="89.20" height="53.90" fill="#000" stroke="none" stroke-width="1" filter="url(#hist2)" opacity="0.35"/>
<g clip-path="url(#ins1)">
<path d="M512,527 C516,524 521,521 526,520 C528,519.5 530,519 531,519.3 M512,527 C518,530 524,534 530,537 C536,540 540,543 543,546 C545,548 546.5,550 547.5,552" stroke="#c64cc3" stroke-width="2.0" fill="none"/>
<path d="M513.5,528.5 C519,532 527,536 536,541" stroke="#e9b6e6" stroke-width="0.8" fill="none"/>
<path d="M542.7,512.9 C546,515 550,517.5 556,520" stroke="#c64cc3" stroke-width="2.2" fill="none"/>
<polygon points="522.5,522 526,520.8 529.6,521.5 527,525 524,529.6 522,527" fill="#f5eef5" stroke="#c64cc3" stroke-width="0.9"/>
<polygon points="537.5,525 541,524.3 543.6,526 543,533.1 539.5,531" fill="#f5eef5" stroke="#c64cc3" stroke-width="0.9"/>
<polygon points="545.4,512 549,511.2 553.2,511.6 552,516.4 548,515" fill="#f5eef5" stroke="#c64cc3" stroke-width="0.9"/>
<polygon points="538.3,552.5 540,547 543,543.6 546.2,546 547,552.5" fill="#f5eef5" stroke="#c64cc3" stroke-width="0.9"/>
<polygon points="513.8,504 516,503.3 518.2,504 517,506.8 514.5,506.5" fill="#f5eef5" stroke="#c64cc3" stroke-width="0.9"/>
<path d="M469.7,548 C474,546 478,547 480,552.5 L469.7,552.5 Z" stroke="none" stroke-width="0" fill="#c94fc4"/>
</g>
<g clip-path="url(#ins2)">
<path d="M469.7,564.2 L523,564.2 C520,567 518,571 519,575 C517,580 516,588 514.5,594 C511,590 508,586 502,582 C495,580 486,581 478,583 C474,584 471,585 469.7,585.5 Z" stroke="#e8c8e6" stroke-width="0.8" fill="#fbf8fb"/>
<path d="M523,564.2 L558.9,564.2 L558.9,570 C552,568 545,567 540,568 C534,568 528,569 523,564.2 Z" stroke="none" stroke-width="0" fill="#f8f2f8"/>
</g>
<path d="M521,575 C523,570 530,568.5 536,570 C542,568.5 548,569.5 548,574 C547,579 543,578 540,577 C537,579 537,583 539,587 C536,591.5 528,592 525,588 C522,584 520,580 521,575 Z" stroke="#111" stroke-width="1.2" fill="#a97ac0" stroke-dasharray="1.8,1"/>
<rect x="469.70" y="498.10" width="89.20" height="54.40" fill="none" stroke="#111" stroke-width="1.0"/>
<rect x="469.70" y="564.20" width="89.20" height="53.90" fill="none" stroke="#111" stroke-width="1.0"/>
<line x1="479.20" y1="546.60" x2="496.70" y2="546.60" stroke="#000" stroke-width="1.8"/>
<line x1="479.20" y1="611.80" x2="496.70" y2="611.80" stroke="#000" stroke-width="1.8"/>
<line x1="605.00" y1="516.70" x2="605.00" y2="614.60" stroke="#444" stroke-width="0.8"/>
<line x1="605.00" y1="614.60" x2="669.70" y2="614.60" stroke="#444" stroke-width="0.8"/>
<line x1="603.00" y1="614.60" x2="605.00" y2="614.60" stroke="#444" stroke-width="0.8"/>
<text x="601.70" y="617.20" font-size="8" text-anchor="end" fill="#111" stroke="#111" stroke-width="0.18">0</text>
<line x1="603.00" y1="595.02" x2="605.00" y2="595.02" stroke="#444" stroke-width="0.8"/>
<text x="601.70" y="597.62" font-size="8" text-anchor="end" fill="#111" stroke="#111" stroke-width="0.18">1</text>
<line x1="603.00" y1="575.44" x2="605.00" y2="575.44" stroke="#444" stroke-width="0.8"/>
<text x="601.70" y="578.04" font-size="8" text-anchor="end" fill="#111" stroke="#111" stroke-width="0.18">2</text>
<line x1="603.00" y1="555.86" x2="605.00" y2="555.86" stroke="#444" stroke-width="0.8"/>
<text x="601.70" y="558.46" font-size="8" text-anchor="end" fill="#111" stroke="#111" stroke-width="0.18">3</text>
<line x1="603.00" y1="536.28" x2="605.00" y2="536.28" stroke="#444" stroke-width="0.8"/>
<text x="601.70" y="538.88" font-size="8" text-anchor="end" fill="#111" stroke="#111" stroke-width="0.18">4</text>
<line x1="603.00" y1="516.70" x2="605.00" y2="516.70" stroke="#444" stroke-width="0.8"/>
<text x="601.70" y="519.30" font-size="8" text-anchor="end" fill="#111" stroke="#111" stroke-width="0.18">5</text>
<line x1="624.00" y1="614.60" x2="624.00" y2="616.60" stroke="#444" stroke-width="0.8"/>
<line x1="651.20" y1="614.60" x2="651.20" y2="616.60" stroke="#444" stroke-width="0.8"/>
<rect x="615.00" y="591.20" width="18.00" height="23.40" fill="#303232" stroke="none" stroke-width="1"/>
<line x1="624.00" y1="591.20" x2="624.00" y2="574.60" stroke="#333" stroke-width="1.2"/>
<line x1="619.60" y1="574.60" x2="628.40" y2="574.60" stroke="#333" stroke-width="1.2"/>
<rect x="642.10" y="552.30" width="18.20" height="62.30" fill="#f03b40" stroke="none" stroke-width="1"/>
<line x1="651.20" y1="552.30" x2="651.20" y2="535.90" stroke="#333" stroke-width="1.2"/>
<line x1="646.80" y1="535.90" x2="655.60" y2="535.90" stroke="#333" stroke-width="1.2"/>
<path d="M623.5,562.2 V520.2 H650.4 V526.7" stroke="#333" stroke-width="0.8" fill="none"/>
<text x="636.90" y="520.50" font-size="7.6" text-anchor="middle" fill="#111" stroke="#111" stroke-width="0.18">**</text>
<text x="623.50" y="625.60" font-size="8" text-anchor="middle" fill="#111" stroke="#111" stroke-width="0.18">Con</text>
<text x="651.10" y="625.60" font-size="8" text-anchor="middle" fill="#111" stroke="#111" stroke-width="0.18">MSK1</text>
<text x="587.40" y="565.40" font-size="8.4" text-anchor="middle" fill="#111" stroke="#111" stroke-width="0.18" transform="rotate(-90 587.4 565.4)">Tumor nodules/section</text>
</svg></body></html>
